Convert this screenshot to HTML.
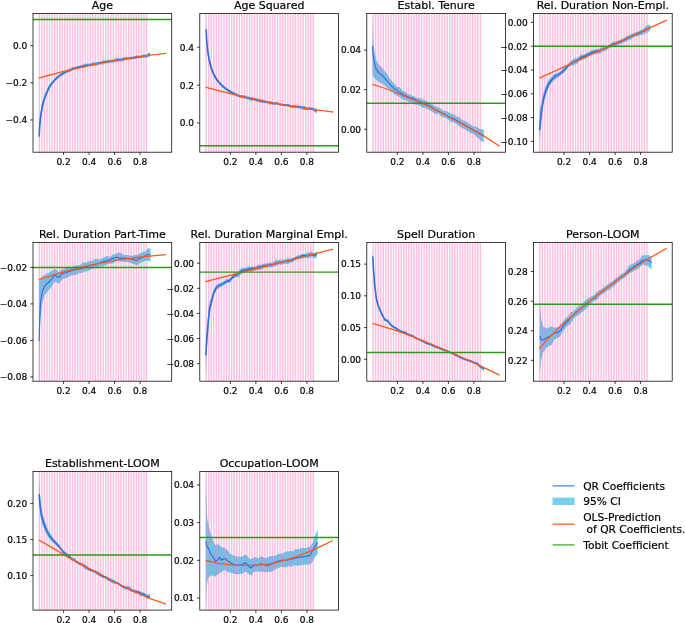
<!DOCTYPE html>
<html lang="en"><head><meta charset="utf-8"><title>QR Coefficients</title>
<style>html,body{margin:0;padding:0;background:#fff}body{width:685px;height:623px;overflow:hidden}svg{display:block;will-change:transform}text{font-family:"DejaVu Sans","Liberation Sans",sans-serif;fill:#000;stroke:#000;stroke-width:.2px}.t{font-size:11.0px;text-anchor:middle}.x{font-size:9.0px;text-anchor:middle}.y{font-size:9.0px;text-anchor:end}.l{font-size:10.65px}</style></head><body>
<svg width="685" height="623" viewBox="0 0 685 623">
<g>
<clipPath id="c00"><rect x="33" y="13.5" width="138.7" height="138.7"/></clipPath>
<g clip-path="url(#c00)">
<polygon points="39.2,127.6 39.7,118.1 40.7,110.2 42.3,101.8 44.4,95 46.5,90.2 48.5,86.1 50.3,83.4 52.8,80.4 55.4,77.8 58,75.4 60.5,73.5 63,71.9 65.7,70.4 68,69.3 70,68.49 71.28,67.79 72.55,67.19 73.83,66.87 75.1,66.78 76.38,66.55 77.66,66.18 78.93,65.97 80.21,65.5 81.48,65.02 82.76,64.39 84.04,63.82 85.31,63.8 86.59,63.67 87.86,63.51 89.14,63.69 90.42,63.31 91.69,62.52 92.97,62.36 94.24,62.37 95.52,62.19 96.8,62.17 98.07,62.06 99.35,61.75 100.62,61.56 101.9,61.12 103.18,60.56 104.45,60.4 105.73,60.31 107,60.11 108.28,59.76 109.56,59.5 110.83,59.74 112.11,59.91 113.38,59.53 114.66,58.86 115.94,58.27 117.21,57.99 118.49,58.16 119.76,58.36 121.04,58.09 122.32,57.64 123.59,57.37 124.87,56.93 126.14,56.81 127.42,57.13 128.7,57.11 129.97,56.94 131.25,56.78 132.52,56.49 133.8,56.32 135.08,55.96 136.35,55.2 137.63,55.26 138.9,55.81 140.18,55.54 141.46,55.09 142.73,54.85 144.01,54.6 145.28,54.51 146.56,54.26 147.84,53.66 149.11,52.3 149.8,51.77 149.8,57.3 149.11,56.7 147.84,56.99 146.56,57.8 145.28,57.94 144.01,57.7 142.73,57.63 141.46,57.79 140.18,57.94 138.9,58.07 137.63,58.43 136.35,58.66 135.08,58.77 133.8,58.95 132.52,59.19 131.25,59.39 129.97,59.68 128.7,59.98 127.42,59.92 126.14,59.74 124.87,60.39 123.59,61.13 122.32,61.19 121.04,61.41 119.76,61.43 118.49,61.43 117.21,61.78 115.94,61.96 114.66,62.33 113.38,62.53 112.11,62.52 110.83,62.72 109.56,62.94 108.28,63.34 107,63.36 105.73,63.16 104.45,63.72 103.18,64.54 101.9,64.56 100.62,64.23 99.35,64.47 98.07,65.11 96.8,65.63 95.52,65.97 94.24,66.08 92.97,65.97 91.69,66.11 90.42,66.26 89.14,66.3 87.86,66.47 86.59,66.78 85.31,67.58 84.04,68.06 82.76,67.9 81.48,68.02 80.21,68.52 78.93,68.99 77.66,69.04 76.38,69.01 75.1,69.28 73.83,69.83 72.55,70.55 71.28,71.36 70,72.21 68,72.3 65.7,73.4 63,74.9 60.5,76.5 58,78.4 55.4,80.8 52.8,84 50.3,87.6 48.5,91.1 46.5,96.2 44.4,102.2 42.3,110.8 40.7,120.7 39.7,131.1 39.2,143.6" fill="#6cc6ea" fill-opacity="1"/>
<path d="M39.33 13.5V152.2M41.88 13.5V152.2M44.43 13.5V152.2M46.98 13.5V152.2M49.53 13.5V152.2M52.09 13.5V152.2M54.64 13.5V152.2M57.19 13.5V152.2M59.74 13.5V152.2M62.29 13.5V152.2M64.85 13.5V152.2M67.4 13.5V152.2M69.95 13.5V152.2M72.5 13.5V152.2M75.05 13.5V152.2M77.61 13.5V152.2M80.16 13.5V152.2M82.71 13.5V152.2M85.26 13.5V152.2M87.81 13.5V152.2M90.37 13.5V152.2M92.92 13.5V152.2M95.47 13.5V152.2M98.02 13.5V152.2M100.57 13.5V152.2M103.13 13.5V152.2M105.68 13.5V152.2M108.23 13.5V152.2M110.78 13.5V152.2M113.33 13.5V152.2M115.89 13.5V152.2M118.44 13.5V152.2M120.99 13.5V152.2M123.54 13.5V152.2M126.09 13.5V152.2M128.65 13.5V152.2M131.2 13.5V152.2M133.75 13.5V152.2M136.3 13.5V152.2M138.85 13.5V152.2M141.41 13.5V152.2M143.96 13.5V152.2M146.51 13.5V152.2" stroke="#ff69b4" stroke-width="1.45" stroke-opacity="0.43" fill="none"/>
<polygon points="39.2,127.6 39.7,118.1 40.7,110.2 42.3,101.8 44.4,95 46.5,90.2 48.5,86.1 50.3,83.4 52.8,80.4 55.4,77.8 58,75.4 60.5,73.5 63,71.9 65.7,70.4 68,69.3 70,68.49 71.28,67.79 72.55,67.19 73.83,66.87 75.1,66.78 76.38,66.55 77.66,66.18 78.93,65.97 80.21,65.5 81.48,65.02 82.76,64.39 84.04,63.82 85.31,63.8 86.59,63.67 87.86,63.51 89.14,63.69 90.42,63.31 91.69,62.52 92.97,62.36 94.24,62.37 95.52,62.19 96.8,62.17 98.07,62.06 99.35,61.75 100.62,61.56 101.9,61.12 103.18,60.56 104.45,60.4 105.73,60.31 107,60.11 108.28,59.76 109.56,59.5 110.83,59.74 112.11,59.91 113.38,59.53 114.66,58.86 115.94,58.27 117.21,57.99 118.49,58.16 119.76,58.36 121.04,58.09 122.32,57.64 123.59,57.37 124.87,56.93 126.14,56.81 127.42,57.13 128.7,57.11 129.97,56.94 131.25,56.78 132.52,56.49 133.8,56.32 135.08,55.96 136.35,55.2 137.63,55.26 138.9,55.81 140.18,55.54 141.46,55.09 142.73,54.85 144.01,54.6 145.28,54.51 146.56,54.26 147.84,53.66 149.11,52.3 149.8,51.77 149.8,57.3 149.11,56.7 147.84,56.99 146.56,57.8 145.28,57.94 144.01,57.7 142.73,57.63 141.46,57.79 140.18,57.94 138.9,58.07 137.63,58.43 136.35,58.66 135.08,58.77 133.8,58.95 132.52,59.19 131.25,59.39 129.97,59.68 128.7,59.98 127.42,59.92 126.14,59.74 124.87,60.39 123.59,61.13 122.32,61.19 121.04,61.41 119.76,61.43 118.49,61.43 117.21,61.78 115.94,61.96 114.66,62.33 113.38,62.53 112.11,62.52 110.83,62.72 109.56,62.94 108.28,63.34 107,63.36 105.73,63.16 104.45,63.72 103.18,64.54 101.9,64.56 100.62,64.23 99.35,64.47 98.07,65.11 96.8,65.63 95.52,65.97 94.24,66.08 92.97,65.97 91.69,66.11 90.42,66.26 89.14,66.3 87.86,66.47 86.59,66.78 85.31,67.58 84.04,68.06 82.76,67.9 81.48,68.02 80.21,68.52 78.93,68.99 77.66,69.04 76.38,69.01 75.1,69.28 73.83,69.83 72.55,70.55 71.28,71.36 70,72.21 68,72.3 65.7,73.4 63,74.9 60.5,76.5 58,78.4 55.4,80.8 52.8,84 50.3,87.6 48.5,91.1 46.5,96.2 44.4,102.2 42.3,110.8 40.7,120.7 39.7,131.1 39.2,143.6" fill="#6cc6ea" fill-opacity="0.3"/>
<polyline points="39.2,136.6 39.7,125.1 40.7,115.7 42.3,106.3 44.4,98.6 46.5,93.2 48.5,88.6 50.3,85.5 52.8,82.2 55.4,79.3 58,76.9 60.5,75 63,73.4 65.7,71.9 68,70.8 70,70.34 71.28,69.55 72.55,68.87 73.83,68.44 75.1,68.13 76.38,67.63 77.66,67.24 78.93,67.12 80.21,66.93 81.48,66.61 82.76,66.2 84.04,65.96 85.31,65.63 86.59,65.29 87.86,65.24 89.14,65.29 90.42,65.18 91.69,64.7 92.97,64.32 94.24,64.19 95.52,63.95 96.8,63.62 98.07,63.26 99.35,63.07 100.62,63.01 101.9,62.75 103.18,62.3 104.45,61.95 105.73,61.86 107,61.77 108.28,61.59 109.56,61.42 110.83,61.22 112.11,60.92 113.38,60.71 114.66,60.46 115.94,60.05 117.21,59.81 118.49,59.87 119.76,59.92 121.04,59.65 122.32,59.42 123.59,59.21 124.87,58.76 126.14,58.5 127.42,58.53 128.7,58.42 129.97,58.14 131.25,57.79 132.52,57.73 133.8,57.95 135.08,57.71 136.35,57.07 137.63,56.76 138.9,56.88 140.18,56.9 141.46,56.68 142.73,56.35 144.01,56.08 145.28,56.09 146.56,55.89 147.84,55.16 149.11,54.27 149.8,54.28" fill="none" stroke="#2f6cdc" stroke-width="1.55" stroke-linejoin="round"/>
<polyline points="38.5,78.2 43.82,76.7 49.13,75.25 54.45,73.83 59.77,72.46 65.08,71.12 70.4,69.83 75.72,68.57 81.03,67.36 86.35,66.18 91.67,65.05 96.98,63.95 102.3,62.9 107.62,61.89 112.93,60.91 118.25,59.98 123.57,59.09 128.88,58.24 134.2,57.43 139.52,56.65 144.83,55.92 150.15,55.23 155.47,54.58 160.78,53.97 166.1,53.4" fill="none" stroke="#ff5a1c" stroke-width="1.3" stroke-linejoin="round"/>
<path d="M33 19.5H171.7" stroke="#2a9a18" stroke-width="1.45"/>
</g>
<rect x="33" y="13.5" width="138.7" height="138.7" fill="none" stroke="#000" stroke-width="0.75"/>
<path d="M63.57 152.2v2.8M89.09 152.2v2.8M114.61 152.2v2.8M140.13 152.2v2.8M33 45.75h-2.8M33 82.85h-2.8M33 119.95h-2.8" stroke="#000" stroke-width="0.75" fill="none"/>
<text class="x" x="63.57" y="165.1">0.2</text>
<text class="x" x="89.09" y="165.1">0.4</text>
<text class="x" x="114.61" y="165.1">0.6</text>
<text class="x" x="140.13" y="165.1">0.8</text>
<text class="y" x="27.3" y="49.05">0.0</text>
<text class="y" x="27.3" y="86.15">−0.2</text>
<text class="y" x="27.3" y="123.25">−0.4</text>
<text class="t" x="102.35" y="9.3">Age</text>
</g>
<g>
<clipPath id="c10"><rect x="199.8" y="13.5" width="138.7" height="138.7"/></clipPath>
<g clip-path="url(#c10)">
<polygon points="206.2,20.2 206.7,33.7 207.7,45.6 209.3,56 211,63.4 212.2,67.5 213.7,71.5 215.3,75.1 217.3,78.4 219.4,81.3 221.4,83.5 223.5,85.4 227.5,88.4 231.6,91 235.7,93 237,93.7 238.28,94.11 239.55,94.76 240.83,95.13 242.1,94.94 243.38,94.99 244.66,95.47 245.93,95.71 247.21,96.05 248.48,96.68 249.76,96.92 251.04,96.87 252.31,97.37 253.59,97.58 254.86,97.79 256.14,98.43 257.42,98.6 258.69,98.85 259.97,99.31 261.24,99.56 262.52,99.64 263.8,99.72 265.07,99.97 266.35,100.68 267.62,101.45 268.9,101.47 270.18,101.45 271.45,101.59 272.73,101.67 274,102.21 275.28,102.23 276.56,101.71 277.83,102.28 279.11,102.96 280.38,103.19 281.66,103.6 282.94,103.93 284.21,104.06 285.49,104.12 286.76,104.21 288.04,104.05 289.32,104.31 290.59,104.97 291.87,105 293.14,104.9 294.42,105.2 295.7,105.28 296.97,105.28 298.25,105.48 299.52,105.62 300.8,105.84 302.08,106.11 303.35,106.11 304.63,106.08 305.9,106.67 307.18,107.28 308.46,107.27 309.73,107.19 311.01,107.38 312.28,107.4 313.56,107.55 314.84,108.22 316.11,108.53 316.9,108.38 316.9,113.61 316.11,113.17 314.84,111.92 313.56,110.97 312.28,110.33 311.01,109.98 309.73,109.81 308.46,109.87 307.18,109.92 305.9,109.97 304.63,110.07 303.35,109.86 302.08,109.41 300.8,108.99 299.52,108.48 298.25,108.16 296.97,107.94 295.7,107.94 294.42,108.09 293.14,108.09 291.87,108.08 290.59,107.69 289.32,107 288.04,106.71 286.76,106.58 285.49,106.36 284.21,106.37 282.94,106.31 281.66,105.97 280.38,105.62 279.11,105.34 277.83,104.68 276.56,104.42 275.28,105.03 274,105.21 272.73,104.97 271.45,104.47 270.18,104.15 268.9,104.45 267.62,103.79 266.35,102.84 265.07,103.14 263.8,103.34 262.52,103.02 261.24,102.83 259.97,102.49 258.69,102.04 257.42,102.02 256.14,101.71 254.86,100.7 253.59,100.41 252.31,100.67 251.04,100.52 249.76,100.09 248.48,99.6 247.21,99.14 245.93,98.72 244.66,98.57 243.38,98.46 242.1,98.31 240.83,98.08 239.55,97.47 238.28,96.85 237,96.53 235.7,96 231.6,94 227.5,91.4 223.5,88.4 221.4,86.5 219.4,84.3 217.3,82 215.3,79.3 213.7,76.5 212.2,73.5 211,70.6 209.3,65 207.7,56.1 206.7,46.7 206.2,36.2" fill="#6cc6ea" fill-opacity="1"/>
<path d="M206.13 13.5V152.2M208.68 13.5V152.2M211.23 13.5V152.2M213.78 13.5V152.2M216.33 13.5V152.2M218.89 13.5V152.2M221.44 13.5V152.2M223.99 13.5V152.2M226.54 13.5V152.2M229.09 13.5V152.2M231.65 13.5V152.2M234.2 13.5V152.2M236.75 13.5V152.2M239.3 13.5V152.2M241.85 13.5V152.2M244.41 13.5V152.2M246.96 13.5V152.2M249.51 13.5V152.2M252.06 13.5V152.2M254.61 13.5V152.2M257.17 13.5V152.2M259.72 13.5V152.2M262.27 13.5V152.2M264.82 13.5V152.2M267.37 13.5V152.2M269.93 13.5V152.2M272.48 13.5V152.2M275.03 13.5V152.2M277.58 13.5V152.2M280.13 13.5V152.2M282.69 13.5V152.2M285.24 13.5V152.2M287.79 13.5V152.2M290.34 13.5V152.2M292.89 13.5V152.2M295.45 13.5V152.2M298 13.5V152.2M300.55 13.5V152.2M303.1 13.5V152.2M305.65 13.5V152.2M308.21 13.5V152.2M310.76 13.5V152.2M313.31 13.5V152.2" stroke="#ff69b4" stroke-width="1.45" stroke-opacity="0.43" fill="none"/>
<polygon points="206.2,20.2 206.7,33.7 207.7,45.6 209.3,56 211,63.4 212.2,67.5 213.7,71.5 215.3,75.1 217.3,78.4 219.4,81.3 221.4,83.5 223.5,85.4 227.5,88.4 231.6,91 235.7,93 237,93.7 238.28,94.11 239.55,94.76 240.83,95.13 242.1,94.94 243.38,94.99 244.66,95.47 245.93,95.71 247.21,96.05 248.48,96.68 249.76,96.92 251.04,96.87 252.31,97.37 253.59,97.58 254.86,97.79 256.14,98.43 257.42,98.6 258.69,98.85 259.97,99.31 261.24,99.56 262.52,99.64 263.8,99.72 265.07,99.97 266.35,100.68 267.62,101.45 268.9,101.47 270.18,101.45 271.45,101.59 272.73,101.67 274,102.21 275.28,102.23 276.56,101.71 277.83,102.28 279.11,102.96 280.38,103.19 281.66,103.6 282.94,103.93 284.21,104.06 285.49,104.12 286.76,104.21 288.04,104.05 289.32,104.31 290.59,104.97 291.87,105 293.14,104.9 294.42,105.2 295.7,105.28 296.97,105.28 298.25,105.48 299.52,105.62 300.8,105.84 302.08,106.11 303.35,106.11 304.63,106.08 305.9,106.67 307.18,107.28 308.46,107.27 309.73,107.19 311.01,107.38 312.28,107.4 313.56,107.55 314.84,108.22 316.11,108.53 316.9,108.38 316.9,113.61 316.11,113.17 314.84,111.92 313.56,110.97 312.28,110.33 311.01,109.98 309.73,109.81 308.46,109.87 307.18,109.92 305.9,109.97 304.63,110.07 303.35,109.86 302.08,109.41 300.8,108.99 299.52,108.48 298.25,108.16 296.97,107.94 295.7,107.94 294.42,108.09 293.14,108.09 291.87,108.08 290.59,107.69 289.32,107 288.04,106.71 286.76,106.58 285.49,106.36 284.21,106.37 282.94,106.31 281.66,105.97 280.38,105.62 279.11,105.34 277.83,104.68 276.56,104.42 275.28,105.03 274,105.21 272.73,104.97 271.45,104.47 270.18,104.15 268.9,104.45 267.62,103.79 266.35,102.84 265.07,103.14 263.8,103.34 262.52,103.02 261.24,102.83 259.97,102.49 258.69,102.04 257.42,102.02 256.14,101.71 254.86,100.7 253.59,100.41 252.31,100.67 251.04,100.52 249.76,100.09 248.48,99.6 247.21,99.14 245.93,98.72 244.66,98.57 243.38,98.46 242.1,98.31 240.83,98.08 239.55,97.47 238.28,96.85 237,96.53 235.7,96 231.6,94 227.5,91.4 223.5,88.4 221.4,86.5 219.4,84.3 217.3,82 215.3,79.3 213.7,76.5 212.2,73.5 211,70.6 209.3,65 207.7,56.1 206.7,46.7 206.2,36.2" fill="#6cc6ea" fill-opacity="0.3"/>
<polyline points="206.2,29.2 206.7,40.7 207.7,51.1 209.3,60.5 211,67 212.2,70.5 213.7,74 215.3,77.2 217.3,80.2 219.4,82.8 221.4,85 223.5,86.9 227.5,89.9 231.6,92.5 235.7,94.5 237,95.14 238.28,95.54 239.55,96.1 240.83,96.38 242.1,96.51 243.38,96.83 244.66,97.22 245.93,97.53 247.21,97.94 248.48,98.3 249.76,98.58 251.04,98.87 252.31,99.23 253.59,99.21 254.86,99.3 256.14,99.97 257.42,100.3 258.69,100.44 259.97,100.83 261.24,101.15 262.52,101.28 263.8,101.45 265.07,101.65 266.35,101.94 267.62,102.31 268.9,102.41 270.18,102.6 271.45,102.97 272.73,103.2 274,103.42 275.28,103.36 276.56,103.22 277.83,103.66 279.11,104.13 280.38,104.45 281.66,104.75 282.94,104.77 284.21,104.74 285.49,104.88 286.76,105.15 288.04,105.21 289.32,105.58 290.59,106.32 291.87,106.5 293.14,106.43 294.42,106.44 295.7,106.39 296.97,106.64 298.25,106.89 299.52,106.97 300.8,107.17 302.08,107.37 303.35,107.6 304.63,107.98 305.9,108.5 307.18,108.67 308.46,108.42 309.73,108.34 311.01,108.68 312.28,109.03 313.56,109.34 314.84,109.98 316.11,110.75 316.9,110.99" fill="none" stroke="#2f6cdc" stroke-width="1.55" stroke-linejoin="round"/>
<polyline points="205.5,87.1 210.82,88.55 216.13,89.97 221.45,91.35 226.77,92.69 232.08,94 237.4,95.27 242.72,96.51 248.03,97.71 253.35,98.87 258.67,100 263.98,101.09 269.3,102.15 274.62,103.17 279.93,104.15 285.25,105.1 290.57,106.01 295.88,106.89 301.2,107.72 306.52,108.53 311.83,109.29 317.15,110.02 322.47,110.72 327.78,111.38 333.1,112" fill="none" stroke="#ff5a1c" stroke-width="1.3" stroke-linejoin="round"/>
<path d="M199.8 145.7H338.5" stroke="#2a9a18" stroke-width="1.45"/>
</g>
<rect x="199.8" y="13.5" width="138.7" height="138.7" fill="none" stroke="#000" stroke-width="0.75"/>
<path d="M230.37 152.2v2.8M255.89 152.2v2.8M281.41 152.2v2.8M306.93 152.2v2.8M199.8 47.2h-2.8M199.8 85.2h-2.8M199.8 122.9h-2.8" stroke="#000" stroke-width="0.75" fill="none"/>
<text class="x" x="230.37" y="165.1">0.2</text>
<text class="x" x="255.89" y="165.1">0.4</text>
<text class="x" x="281.41" y="165.1">0.6</text>
<text class="x" x="306.93" y="165.1">0.8</text>
<text class="y" x="194.1" y="50.5">0.4</text>
<text class="y" x="194.1" y="88.5">0.2</text>
<text class="y" x="194.1" y="126.2">0.0</text>
<text class="t" x="269.15" y="9.3">Age Squared</text>
</g>
<g>
<clipPath id="c20"><rect x="366.8" y="13.5" width="138.7" height="138.7"/></clipPath>
<g clip-path="url(#c20)">
<polygon points="372.5,17.6 373.1,38.5 374.4,51.3 376,59.3 378,63.4 380,65.8 382.4,68.2 384.9,71.4 387.3,74.6 390.5,79.4 392,81.25 393.28,82.76 394.55,84.06 395.83,85.57 397.1,87.08 398.38,87.04 399.66,87.18 400.93,88.83 402.21,90.43 403.48,91.28 404.76,91.82 406.04,92.5 407.31,93.45 408.59,94.29 409.86,94.39 411.14,94.91 412.42,95.89 413.69,96.09 414.97,96.6 416.24,97.85 417.52,98.19 418.8,97.79 420.07,98.04 421.35,98.92 422.62,99.47 423.9,99.7 425.18,100.11 426.45,101.04 427.73,101.96 429,102.07 430.28,102.36 431.56,103.65 432.83,104.8 434.11,105.59 435.38,106.42 436.66,106.75 437.94,107.09 439.21,107.69 440.49,108.44 441.76,109.7 443.04,110.55 444.32,110.7 445.59,110.95 446.87,111.47 448.14,112 449.42,112.73 450.7,113.43 451.97,113.81 453.25,114.21 454.52,114.86 455.8,116.09 457.08,116.99 458.35,116.78 459.63,117.22 460.9,119.02 462.18,120.22 463.46,120.32 464.73,120.8 466.01,121.76 467.28,122.54 468.56,123.33 469.84,124.26 471.11,124.99 472.39,125.79 473.66,126.51 474.94,126.56 476.22,126.55 477.49,127.53 478.77,128.54 480.04,129 481.32,129.13 482.6,129.36 483.7,129.9 483.7,142.31 482.6,141.57 481.32,141.05 480.04,139.91 478.77,138.51 477.49,137.62 476.22,136.53 474.94,135.19 473.66,134.16 472.39,133.53 471.11,133.13 469.84,132.5 468.56,131.79 467.28,130.98 466.01,130 464.73,129.07 463.46,128.42 462.18,128.04 460.9,127.2 459.63,126.18 458.35,125.4 457.08,124.65 455.8,123.58 454.52,122.78 453.25,122.42 451.97,122.11 450.7,121.76 449.42,120.72 448.14,119.55 446.87,118.56 445.59,117.74 444.32,117.44 443.04,117.26 441.76,117.06 440.49,116.04 439.21,114.11 437.94,113.54 436.66,114.22 435.38,113.96 434.11,113.19 432.83,112.31 431.56,111.34 430.28,110.47 429,109.8 427.73,109.37 426.45,108.66 425.18,108.12 423.9,108.11 422.62,107.86 421.35,106.93 420.07,105.97 418.8,105.39 417.52,104.86 416.24,104.72 414.97,104.49 413.69,103.33 412.42,102.39 411.14,102.41 409.86,102.17 408.59,101.6 407.31,101.17 406.04,100.53 404.76,99.86 403.48,99.82 402.21,99.22 400.93,97.85 399.66,97.16 398.38,96.6 397.1,95.55 395.83,94.99 394.55,94.34 393.28,93 392,91.84 390.5,90.7 387.3,87.8 384.9,85.9 382.4,83.8 380,82.7 378,81.4 376,79.8 374.4,78.2 372.5,75" fill="#6cc6ea" fill-opacity="1"/>
<path d="M373.13 13.5V152.2M375.68 13.5V152.2M378.23 13.5V152.2M380.78 13.5V152.2M383.33 13.5V152.2M385.89 13.5V152.2M388.44 13.5V152.2M390.99 13.5V152.2M393.54 13.5V152.2M396.09 13.5V152.2M398.65 13.5V152.2M401.2 13.5V152.2M403.75 13.5V152.2M406.3 13.5V152.2M408.85 13.5V152.2M411.41 13.5V152.2M413.96 13.5V152.2M416.51 13.5V152.2M419.06 13.5V152.2M421.61 13.5V152.2M424.17 13.5V152.2M426.72 13.5V152.2M429.27 13.5V152.2M431.82 13.5V152.2M434.37 13.5V152.2M436.93 13.5V152.2M439.48 13.5V152.2M442.03 13.5V152.2M444.58 13.5V152.2M447.13 13.5V152.2M449.69 13.5V152.2M452.24 13.5V152.2M454.79 13.5V152.2M457.34 13.5V152.2M459.89 13.5V152.2M462.45 13.5V152.2M465 13.5V152.2M467.55 13.5V152.2M470.1 13.5V152.2M472.65 13.5V152.2M475.21 13.5V152.2M477.76 13.5V152.2M480.31 13.5V152.2" stroke="#ff69b4" stroke-width="1.45" stroke-opacity="0.43" fill="none"/>
<polygon points="372.5,17.6 373.1,38.5 374.4,51.3 376,59.3 378,63.4 380,65.8 382.4,68.2 384.9,71.4 387.3,74.6 390.5,79.4 392,81.25 393.28,82.76 394.55,84.06 395.83,85.57 397.1,87.08 398.38,87.04 399.66,87.18 400.93,88.83 402.21,90.43 403.48,91.28 404.76,91.82 406.04,92.5 407.31,93.45 408.59,94.29 409.86,94.39 411.14,94.91 412.42,95.89 413.69,96.09 414.97,96.6 416.24,97.85 417.52,98.19 418.8,97.79 420.07,98.04 421.35,98.92 422.62,99.47 423.9,99.7 425.18,100.11 426.45,101.04 427.73,101.96 429,102.07 430.28,102.36 431.56,103.65 432.83,104.8 434.11,105.59 435.38,106.42 436.66,106.75 437.94,107.09 439.21,107.69 440.49,108.44 441.76,109.7 443.04,110.55 444.32,110.7 445.59,110.95 446.87,111.47 448.14,112 449.42,112.73 450.7,113.43 451.97,113.81 453.25,114.21 454.52,114.86 455.8,116.09 457.08,116.99 458.35,116.78 459.63,117.22 460.9,119.02 462.18,120.22 463.46,120.32 464.73,120.8 466.01,121.76 467.28,122.54 468.56,123.33 469.84,124.26 471.11,124.99 472.39,125.79 473.66,126.51 474.94,126.56 476.22,126.55 477.49,127.53 478.77,128.54 480.04,129 481.32,129.13 482.6,129.36 483.7,129.9 483.7,142.31 482.6,141.57 481.32,141.05 480.04,139.91 478.77,138.51 477.49,137.62 476.22,136.53 474.94,135.19 473.66,134.16 472.39,133.53 471.11,133.13 469.84,132.5 468.56,131.79 467.28,130.98 466.01,130 464.73,129.07 463.46,128.42 462.18,128.04 460.9,127.2 459.63,126.18 458.35,125.4 457.08,124.65 455.8,123.58 454.52,122.78 453.25,122.42 451.97,122.11 450.7,121.76 449.42,120.72 448.14,119.55 446.87,118.56 445.59,117.74 444.32,117.44 443.04,117.26 441.76,117.06 440.49,116.04 439.21,114.11 437.94,113.54 436.66,114.22 435.38,113.96 434.11,113.19 432.83,112.31 431.56,111.34 430.28,110.47 429,109.8 427.73,109.37 426.45,108.66 425.18,108.12 423.9,108.11 422.62,107.86 421.35,106.93 420.07,105.97 418.8,105.39 417.52,104.86 416.24,104.72 414.97,104.49 413.69,103.33 412.42,102.39 411.14,102.41 409.86,102.17 408.59,101.6 407.31,101.17 406.04,100.53 404.76,99.86 403.48,99.82 402.21,99.22 400.93,97.85 399.66,97.16 398.38,96.6 397.1,95.55 395.83,94.99 394.55,94.34 393.28,93 392,91.84 390.5,90.7 387.3,87.8 384.9,85.9 382.4,83.8 380,82.7 378,81.4 376,79.8 374.4,78.2 372.5,75" fill="#6cc6ea" fill-opacity="0.3"/>
<polyline points="372.5,46.3 373.1,55.1 374.4,63.2 376,68.8 378,72 380,73.6 382.4,75.7 384.9,78.4 387.3,81.1 390.5,84.8 392,86.43 393.28,87.61 394.55,88.7 395.83,89.61 397.1,90.62 398.38,91.67 399.66,92.38 400.93,93.05 402.21,93.93 403.48,94.71 404.76,95.35 406.04,95.91 407.31,96.43 408.59,97.07 409.86,97.53 411.14,97.84 412.42,98.21 413.69,98.76 414.97,99.46 416.24,100.05 417.52,100.64 418.8,101.15 420.07,101.64 421.35,102.33 422.62,103.1 423.9,103.72 425.18,104.18 426.45,104.63 427.73,105.17 429,105.78 430.28,106.35 431.56,107.19 432.83,108.05 434.11,108.61 435.38,109.44 436.66,110.21 437.94,110.78 439.21,111.55 440.49,112.37 441.76,113.05 443.04,113.56 444.32,114.1 445.59,114.73 446.87,115.44 448.14,116.18 449.42,116.93 450.7,117.58 451.97,117.96 453.25,118.51 454.52,119.15 455.8,119.94 457.08,120.83 458.35,121.32 459.63,122 460.9,123 462.18,123.73 463.46,124.26 464.73,125.01 466.01,125.76 467.28,126.43 468.56,127.27 469.84,128.06 471.11,128.73 472.39,129.54 473.66,130.54 474.94,131.2 476.22,131.67 477.49,132.64 478.77,133.48 480.04,134.01 481.32,134.69 482.6,135.54 483.7,136.1" fill="none" stroke="#2f6cdc" stroke-width="1.1" stroke-linejoin="round"/>
<polyline points="372.5,84.3 384.1,88 400.1,94.5 416.2,100.9 430,106.9 447.5,116.3 465,125.6 481.4,134.4 499.7,146.3" fill="none" stroke="#ff5a1c" stroke-width="1.3" stroke-linejoin="round"/>
<path d="M366.8 103.3H505.5" stroke="#2a9a18" stroke-width="1.45"/>
</g>
<rect x="366.8" y="13.5" width="138.7" height="138.7" fill="none" stroke="#000" stroke-width="0.75"/>
<path d="M397.37 152.2v2.8M422.89 152.2v2.8M448.41 152.2v2.8M473.93 152.2v2.8M366.8 50h-2.8M366.8 89.6h-2.8M366.8 129.2h-2.8" stroke="#000" stroke-width="0.75" fill="none"/>
<text class="x" x="397.37" y="165.1">0.2</text>
<text class="x" x="422.89" y="165.1">0.4</text>
<text class="x" x="448.41" y="165.1">0.6</text>
<text class="x" x="473.93" y="165.1">0.8</text>
<text class="y" x="361.1" y="53.3">0.04</text>
<text class="y" x="361.1" y="92.9">0.02</text>
<text class="y" x="361.1" y="132.5">0.00</text>
<text class="t" x="436.15" y="9.3">Establ. Tenure</text>
</g>
<g>
<clipPath id="c30"><rect x="533.5" y="13.5" width="138.7" height="138.7"/></clipPath>
<g clip-path="url(#c30)">
<polygon points="539.6,111.3 540.7,106.4 542,99.8 543.6,92.2 546,85.3 548.4,80.5 551.7,76.4 554.9,73.6 558.1,72.4 560,71.9 561.28,70.57 562.55,68.65 563.83,66.93 565.1,65.77 566.38,65.13 567.66,64.16 568.93,63.17 570.21,61.36 571.48,60.03 572.76,59.83 574.04,58.84 575.31,57.83 576.59,57.89 577.86,57.76 579.14,56.49 580.42,54.87 581.69,54.33 582.97,54.46 584.24,54.13 585.52,53.71 586.8,52.9 588.07,51.91 589.35,51.4 590.62,50.62 591.9,50.02 593.18,49.99 594.45,49.8 595.73,49.21 597,48.77 598.28,48.91 599.56,48.8 600.83,47.74 602.11,46.64 603.38,46.52 604.66,46.56 605.94,45.89 607.21,45.68 608.49,45.47 609.76,44.35 611.04,43.31 612.32,42.17 613.59,41.54 614.87,41.73 616.14,41.28 617.42,40.54 618.7,40.43 619.97,40.17 621.25,39.1 622.52,38.57 623.8,38.49 625.08,37.15 626.35,36.04 627.63,35.92 628.9,35.23 630.18,34.49 631.46,34.11 632.73,33.72 634.01,33.2 635.28,32.47 636.56,32.07 637.84,31.57 639.11,30.91 640.39,30.31 641.66,29.63 642.94,28.96 644.22,27.99 645.49,26.72 646.77,25.36 648.04,24.93 649.32,24.93 650.3,24.5 650.3,29.98 649.32,30.99 648.04,32.09 646.77,32.74 645.49,33.36 644.22,33.83 642.94,34.45 641.66,35.01 640.39,35.19 639.11,35.43 637.84,36.02 636.56,36.44 635.28,36.43 634.01,37.01 632.73,38.11 631.46,39.26 630.18,39.85 628.9,39.94 627.63,40.75 626.35,41.63 625.08,41.89 623.8,42.42 622.52,43.13 621.25,43.52 619.97,44 618.7,44.68 617.42,45.49 616.14,45.98 614.87,45.84 613.59,46.28 612.32,47.31 611.04,47.63 609.76,47.71 608.49,48.72 607.21,49.84 605.94,50.47 604.66,51.02 603.38,51.21 602.11,51.66 600.83,52.65 599.56,53.52 598.28,53.71 597,53.75 595.73,54.09 594.45,53.88 593.18,53.71 591.9,54.49 590.62,55.4 589.35,55.98 588.07,56.72 586.8,57.82 585.52,58.85 584.24,59.25 582.97,59.41 581.69,59.75 580.42,60.23 579.14,61.33 577.86,62.93 576.59,63.98 575.31,64.18 574.04,64.95 572.76,65.92 571.48,65.75 570.21,65.85 568.93,66.73 567.66,68.1 566.38,69.99 565.1,71.3 563.83,72.99 562.55,74.35 561.28,74.68 560,75.73 558.1,77.4 554.9,79.4 551.7,83 548.4,88.5 546,94.9 543.6,104.2 542,115.8 540.7,127.4 539.6,144.3" fill="#6cc6ea" fill-opacity="1"/>
<path d="M539.83 13.5V152.2M542.38 13.5V152.2M544.93 13.5V152.2M547.48 13.5V152.2M550.03 13.5V152.2M552.59 13.5V152.2M555.14 13.5V152.2M557.69 13.5V152.2M560.24 13.5V152.2M562.79 13.5V152.2M565.35 13.5V152.2M567.9 13.5V152.2M570.45 13.5V152.2M573 13.5V152.2M575.55 13.5V152.2M578.11 13.5V152.2M580.66 13.5V152.2M583.21 13.5V152.2M585.76 13.5V152.2M588.31 13.5V152.2M590.87 13.5V152.2M593.42 13.5V152.2M595.97 13.5V152.2M598.52 13.5V152.2M601.07 13.5V152.2M603.63 13.5V152.2M606.18 13.5V152.2M608.73 13.5V152.2M611.28 13.5V152.2M613.83 13.5V152.2M616.39 13.5V152.2M618.94 13.5V152.2M621.49 13.5V152.2M624.04 13.5V152.2M626.59 13.5V152.2M629.15 13.5V152.2M631.7 13.5V152.2M634.25 13.5V152.2M636.8 13.5V152.2M639.35 13.5V152.2M641.91 13.5V152.2M644.46 13.5V152.2M647.01 13.5V152.2" stroke="#ff69b4" stroke-width="1.45" stroke-opacity="0.43" fill="none"/>
<polygon points="539.6,111.3 540.7,106.4 542,99.8 543.6,92.2 546,85.3 548.4,80.5 551.7,76.4 554.9,73.6 558.1,72.4 560,71.9 561.28,70.57 562.55,68.65 563.83,66.93 565.1,65.77 566.38,65.13 567.66,64.16 568.93,63.17 570.21,61.36 571.48,60.03 572.76,59.83 574.04,58.84 575.31,57.83 576.59,57.89 577.86,57.76 579.14,56.49 580.42,54.87 581.69,54.33 582.97,54.46 584.24,54.13 585.52,53.71 586.8,52.9 588.07,51.91 589.35,51.4 590.62,50.62 591.9,50.02 593.18,49.99 594.45,49.8 595.73,49.21 597,48.77 598.28,48.91 599.56,48.8 600.83,47.74 602.11,46.64 603.38,46.52 604.66,46.56 605.94,45.89 607.21,45.68 608.49,45.47 609.76,44.35 611.04,43.31 612.32,42.17 613.59,41.54 614.87,41.73 616.14,41.28 617.42,40.54 618.7,40.43 619.97,40.17 621.25,39.1 622.52,38.57 623.8,38.49 625.08,37.15 626.35,36.04 627.63,35.92 628.9,35.23 630.18,34.49 631.46,34.11 632.73,33.72 634.01,33.2 635.28,32.47 636.56,32.07 637.84,31.57 639.11,30.91 640.39,30.31 641.66,29.63 642.94,28.96 644.22,27.99 645.49,26.72 646.77,25.36 648.04,24.93 649.32,24.93 650.3,24.5 650.3,29.98 649.32,30.99 648.04,32.09 646.77,32.74 645.49,33.36 644.22,33.83 642.94,34.45 641.66,35.01 640.39,35.19 639.11,35.43 637.84,36.02 636.56,36.44 635.28,36.43 634.01,37.01 632.73,38.11 631.46,39.26 630.18,39.85 628.9,39.94 627.63,40.75 626.35,41.63 625.08,41.89 623.8,42.42 622.52,43.13 621.25,43.52 619.97,44 618.7,44.68 617.42,45.49 616.14,45.98 614.87,45.84 613.59,46.28 612.32,47.31 611.04,47.63 609.76,47.71 608.49,48.72 607.21,49.84 605.94,50.47 604.66,51.02 603.38,51.21 602.11,51.66 600.83,52.65 599.56,53.52 598.28,53.71 597,53.75 595.73,54.09 594.45,53.88 593.18,53.71 591.9,54.49 590.62,55.4 589.35,55.98 588.07,56.72 586.8,57.82 585.52,58.85 584.24,59.25 582.97,59.41 581.69,59.75 580.42,60.23 579.14,61.33 577.86,62.93 576.59,63.98 575.31,64.18 574.04,64.95 572.76,65.92 571.48,65.75 570.21,65.85 568.93,66.73 567.66,68.1 566.38,69.99 565.1,71.3 563.83,72.99 562.55,74.35 561.28,74.68 560,75.73 558.1,77.4 554.9,79.4 551.7,83 548.4,88.5 546,94.9 543.6,104.2 542,115.8 540.7,127.4 539.6,144.3" fill="#6cc6ea" fill-opacity="0.3"/>
<polyline points="539.6,130.3 540.7,117.4 542,107.8 543.6,98.2 546,90.1 548.4,84.5 551.7,79.7 554.9,76.5 558.1,74.9 560,73.55 561.28,72.5 562.55,71.41 563.83,70.34 565.1,69.16 566.38,67.79 567.66,66.12 568.93,65.05 570.21,64.08 571.48,63.15 572.76,62.5 574.04,61.87 575.31,61.14 576.59,60.59 577.86,60.14 579.14,59.03 580.42,57.78 581.69,57.2 582.97,56.66 584.24,56.29 585.52,56.06 586.8,55.11 588.07,54.19 589.35,53.97 590.62,53.48 591.9,52.66 593.18,52.13 594.45,51.82 595.73,51.53 597,51.19 598.28,51.14 599.56,50.96 600.83,50.09 602.11,49.3 603.38,49.05 604.66,48.66 605.94,48.05 607.21,47.42 608.49,46.39 609.76,45.63 611.04,45.26 612.32,44.65 613.59,44.19 614.87,44 616.14,43.58 617.42,42.83 618.7,42.3 619.97,42.01 621.25,41.29 622.52,40.6 623.8,40.03 625.08,39.21 626.35,38.69 627.63,38.3 628.9,37.51 630.18,36.81 631.46,36.29 632.73,35.58 634.01,34.81 635.28,34.44 636.56,34.19 637.84,33.66 639.11,33.2 640.39,32.56 641.66,31.82 642.94,31.37 644.22,30.79 645.49,29.91 646.77,29 648.04,28.56 649.32,28.2 650.3,27.3" fill="none" stroke="#2f6cdc" stroke-width="1.55" stroke-linejoin="round"/>
<polyline points="539.3,78.1 666.8,20.2" fill="none" stroke="#ff5a1c" stroke-width="1.3" stroke-linejoin="round"/>
<path d="M533.5 46.3H672.2" stroke="#2a9a18" stroke-width="1.45"/>
</g>
<rect x="533.5" y="13.5" width="138.7" height="138.7" fill="none" stroke="#000" stroke-width="0.75"/>
<path d="M564.07 152.2v2.8M589.59 152.2v2.8M615.11 152.2v2.8M640.63 152.2v2.8M533.5 22.4h-2.8M533.5 46.2h-2.8M533.5 70h-2.8M533.5 93.8h-2.8M533.5 117.6h-2.8M533.5 141.4h-2.8" stroke="#000" stroke-width="0.75" fill="none"/>
<text class="x" x="564.07" y="165.1">0.2</text>
<text class="x" x="589.59" y="165.1">0.4</text>
<text class="x" x="615.11" y="165.1">0.6</text>
<text class="x" x="640.63" y="165.1">0.8</text>
<text class="y" x="527.8" y="25.7">0.00</text>
<text class="y" x="527.8" y="49.5">−0.02</text>
<text class="y" x="527.8" y="73.3">−0.04</text>
<text class="y" x="527.8" y="97.1">−0.06</text>
<text class="y" x="527.8" y="120.9">−0.08</text>
<text class="y" x="527.8" y="144.7">−0.10</text>
<text class="t" x="602.85" y="9.3">Rel. Duration Non-Empl.</text>
</g>
<g>
<clipPath id="c01"><rect x="33" y="242.5" width="138.7" height="138.7"/></clipPath>
<g clip-path="url(#c01)">
<polygon points="39.1,281.5 41.2,277.5 44.4,275.1 50.1,272 54.9,268.8 58.9,272 62.1,268.8 64,269.1 65.28,268.08 66.55,267.61 67.83,267.29 69.1,266.59 70.38,266.7 71.66,267.12 72.93,266.84 74.21,265.81 75.48,265.24 76.76,265.56 78.04,265.56 79.31,265.2 80.59,264.6 81.86,263.36 83.14,262.64 84.42,262.59 85.69,262.7 86.97,262.25 88.24,261.54 89.52,261.28 90.8,261.23 92.07,260.95 93.35,260.28 94.62,259.29 95.9,258.82 97.18,259.21 98.45,259.58 99.73,259.56 101,258.97 102.28,258.16 103.56,257.7 104.83,257.04 106.11,256.29 107.38,256.09 108.66,256.58 109.94,256.71 111.21,255.75 112.49,254.82 113.76,254.48 115.04,253.96 116.32,253.43 117.59,252.93 118.87,252.6 120.14,252.7 121.42,253.33 122.7,254.26 123.97,254.77 125.25,254.99 126.52,255.07 127.8,255.1 129.08,255.56 130.35,255.73 131.63,255.63 132.9,255.75 134.18,255.36 135.46,255.04 136.73,255.22 138.01,254.6 139.28,253.78 140.56,253.2 141.84,252.54 143.11,251.84 144.39,251.73 145.66,251.18 146.94,249.53 148.22,248.22 149.49,248.59 150.5,248.98 150.5,261.14 149.49,261.29 148.22,260.84 146.94,260.73 145.66,261.03 144.39,261.47 143.11,261.81 141.84,262.27 140.56,262.8 139.28,263.88 138.01,265.02 136.73,265.6 135.46,264.85 134.18,264.07 132.9,263.96 131.63,263.61 130.35,262.76 129.08,262.36 127.8,262.15 126.52,261.86 125.25,261.88 123.97,261.91 122.7,261.75 121.42,261.62 120.14,261.48 118.87,261.15 117.59,260.72 116.32,261 115.04,261.92 113.76,262.95 112.49,263.54 111.21,263.76 109.94,263.83 108.66,263.72 107.38,264.31 106.11,265.21 104.83,265.51 103.56,266.03 102.28,266.54 101,266.29 99.73,266.32 98.45,267.3 97.18,268.24 95.9,268.21 94.62,267.95 93.35,268.41 92.07,268.97 90.8,269.42 89.52,270.23 88.24,270.82 86.97,271.31 85.69,271.55 84.42,271.48 83.14,272.29 81.86,273.25 80.59,273.12 79.31,272.97 78.04,273.79 76.76,274.45 75.48,274.84 74.21,275.19 72.93,275.16 71.66,275.23 70.38,275.72 69.1,276.3 67.83,277.49 66.55,278.36 65.28,278.15 64,278.25 62.1,279.8 58.9,283.8 54.9,281.4 50.9,287.8 47.6,291.2 44.4,296 42,304 40.4,320 39.8,340 39.45,381 38.9,381" fill="#6cc6ea" fill-opacity="1"/>
<path d="M39.33 242.5V381.2M41.88 242.5V381.2M44.43 242.5V381.2M46.98 242.5V381.2M49.53 242.5V381.2M52.09 242.5V381.2M54.64 242.5V381.2M57.19 242.5V381.2M59.74 242.5V381.2M62.29 242.5V381.2M64.85 242.5V381.2M67.4 242.5V381.2M69.95 242.5V381.2M72.5 242.5V381.2M75.05 242.5V381.2M77.61 242.5V381.2M80.16 242.5V381.2M82.71 242.5V381.2M85.26 242.5V381.2M87.81 242.5V381.2M90.37 242.5V381.2M92.92 242.5V381.2M95.47 242.5V381.2M98.02 242.5V381.2M100.57 242.5V381.2M103.13 242.5V381.2M105.68 242.5V381.2M108.23 242.5V381.2M110.78 242.5V381.2M113.33 242.5V381.2M115.89 242.5V381.2M118.44 242.5V381.2M120.99 242.5V381.2M123.54 242.5V381.2M126.09 242.5V381.2M128.65 242.5V381.2M131.2 242.5V381.2M133.75 242.5V381.2M136.3 242.5V381.2M138.85 242.5V381.2M141.41 242.5V381.2M143.96 242.5V381.2M146.51 242.5V381.2" stroke="#ff69b4" stroke-width="1.45" stroke-opacity="0.43" fill="none"/>
<polygon points="39.1,281.5 41.2,277.5 44.4,275.1 50.1,272 54.9,268.8 58.9,272 62.1,268.8 64,269.1 65.28,268.08 66.55,267.61 67.83,267.29 69.1,266.59 70.38,266.7 71.66,267.12 72.93,266.84 74.21,265.81 75.48,265.24 76.76,265.56 78.04,265.56 79.31,265.2 80.59,264.6 81.86,263.36 83.14,262.64 84.42,262.59 85.69,262.7 86.97,262.25 88.24,261.54 89.52,261.28 90.8,261.23 92.07,260.95 93.35,260.28 94.62,259.29 95.9,258.82 97.18,259.21 98.45,259.58 99.73,259.56 101,258.97 102.28,258.16 103.56,257.7 104.83,257.04 106.11,256.29 107.38,256.09 108.66,256.58 109.94,256.71 111.21,255.75 112.49,254.82 113.76,254.48 115.04,253.96 116.32,253.43 117.59,252.93 118.87,252.6 120.14,252.7 121.42,253.33 122.7,254.26 123.97,254.77 125.25,254.99 126.52,255.07 127.8,255.1 129.08,255.56 130.35,255.73 131.63,255.63 132.9,255.75 134.18,255.36 135.46,255.04 136.73,255.22 138.01,254.6 139.28,253.78 140.56,253.2 141.84,252.54 143.11,251.84 144.39,251.73 145.66,251.18 146.94,249.53 148.22,248.22 149.49,248.59 150.5,248.98 150.5,261.14 149.49,261.29 148.22,260.84 146.94,260.73 145.66,261.03 144.39,261.47 143.11,261.81 141.84,262.27 140.56,262.8 139.28,263.88 138.01,265.02 136.73,265.6 135.46,264.85 134.18,264.07 132.9,263.96 131.63,263.61 130.35,262.76 129.08,262.36 127.8,262.15 126.52,261.86 125.25,261.88 123.97,261.91 122.7,261.75 121.42,261.62 120.14,261.48 118.87,261.15 117.59,260.72 116.32,261 115.04,261.92 113.76,262.95 112.49,263.54 111.21,263.76 109.94,263.83 108.66,263.72 107.38,264.31 106.11,265.21 104.83,265.51 103.56,266.03 102.28,266.54 101,266.29 99.73,266.32 98.45,267.3 97.18,268.24 95.9,268.21 94.62,267.95 93.35,268.41 92.07,268.97 90.8,269.42 89.52,270.23 88.24,270.82 86.97,271.31 85.69,271.55 84.42,271.48 83.14,272.29 81.86,273.25 80.59,273.12 79.31,272.97 78.04,273.79 76.76,274.45 75.48,274.84 74.21,275.19 72.93,275.16 71.66,275.23 70.38,275.72 69.1,276.3 67.83,277.49 66.55,278.36 65.28,278.15 64,278.25 62.1,279.8 58.9,283.8 54.9,281.4 50.9,287.8 47.6,291.2 44.4,296 42,304 40.4,320 39.8,340 39.45,381 38.9,381" fill="#6cc6ea" fill-opacity="0.3"/>
<polyline points="39.1,340.9 39.6,323.3 40.4,304 42,292.8 44.4,286.3 47.6,283.1 50.9,279.9 54.9,275.1 58.9,277.5 62.1,273.5 64,273.01 65.28,272.84 66.55,272.51 67.83,272 69.1,271.52 70.38,271.19 71.66,270.79 72.93,270.46 74.21,270.07 75.48,269.73 76.76,269.41 78.04,269.21 79.31,269.05 80.59,268.8 81.86,268.31 83.14,267.88 84.42,267.27 85.69,266.81 86.97,266.62 88.24,266.13 89.52,265.63 90.8,265.3 92.07,264.96 93.35,264.61 94.62,264.45 95.9,264.3 97.18,263.82 98.45,263.26 99.73,262.92 101,262.51 102.28,261.91 103.56,261.52 104.83,261.24 106.11,260.63 107.38,260.21 108.66,260.12 109.94,259.81 111.21,259.05 112.49,258.49 113.76,258.22 115.04,257.78 116.32,257.29 117.59,257.25 118.87,257.94 120.14,258.18 121.42,258.12 122.7,258.22 123.97,258.17 125.25,258.17 126.52,258.34 127.8,258.68 129.08,258.86 130.35,258.87 131.63,259.1 132.9,259.41 134.18,259.68 135.46,260.08 136.73,260.37 138.01,259.62 139.28,258.75 140.56,258.01 141.84,257.51 143.11,256.79 144.39,256.13 145.66,255.7 146.94,255.12 148.22,254.44 149.49,254.63 150.5,254.7" fill="none" stroke="#2f6cdc" stroke-width="1.1" stroke-linejoin="round"/>
<polyline points="38.8,279.6 54.9,274.3 70.9,270 87,266 104,262.6 118.4,259.9 141.7,256.8 165.9,254.7" fill="none" stroke="#ff5a1c" stroke-width="1.3" stroke-linejoin="round"/>
<path d="M33 267.5H171.7" stroke="#2a9a18" stroke-width="1.45"/>
</g>
<rect x="33" y="242.5" width="138.7" height="138.7" fill="none" stroke="#000" stroke-width="0.75"/>
<path d="M63.57 381.2v2.8M89.09 381.2v2.8M114.61 381.2v2.8M140.13 381.2v2.8M33 267.4h-2.8M33 303.9h-2.8M33 340.4h-2.8M33 376.9h-2.8" stroke="#000" stroke-width="0.75" fill="none"/>
<text class="x" x="63.57" y="394.1">0.2</text>
<text class="x" x="89.09" y="394.1">0.4</text>
<text class="x" x="114.61" y="394.1">0.6</text>
<text class="x" x="140.13" y="394.1">0.8</text>
<text class="y" x="27.3" y="270.7">−0.02</text>
<text class="y" x="27.3" y="307.2">−0.04</text>
<text class="y" x="27.3" y="343.7">−0.06</text>
<text class="y" x="27.3" y="380.2">−0.08</text>
<text class="t" x="102.35" y="238.3">Rel. Duration Part-Time</text>
</g>
<g>
<clipPath id="c11"><rect x="199.8" y="242.5" width="138.7" height="138.7"/></clipPath>
<g clip-path="url(#c11)">
<polygon points="205.8,337.3 207,325.3 208.6,310.2 209.8,300.2 211,299.2 212.2,294 214,288.7 216.7,284.3 220.1,282.9 224.1,280.9 226,279.25 227.28,278.99 228.55,279.14 229.83,278.66 231.1,276.72 232.38,274.59 233.66,273.3 234.93,272.81 236.21,272.9 237.48,272.19 238.76,270.66 240.04,269.3 241.31,268.62 242.59,268.1 243.86,267.82 245.14,267.8 246.42,267.22 247.69,266.57 248.97,266.61 250.24,266.68 251.52,266.55 252.8,266.7 254.07,266.57 255.35,266.34 256.62,265.71 257.9,264.71 259.18,264.55 260.45,264.85 261.73,264.81 263,264.09 264.28,263.34 265.56,263.46 266.83,263.39 268.11,263.03 269.38,262.6 270.66,262.28 271.94,262.64 273.21,262.3 274.49,260.95 275.76,259.83 277.04,259.89 278.32,260.43 279.59,260.05 280.87,259.82 282.14,259.63 283.42,259.27 284.7,259.47 285.97,259.02 287.25,258.29 288.52,258.41 289.8,258.47 291.08,258.18 292.35,258.05 293.63,257.7 294.9,257.02 296.18,256.42 297.46,255.61 298.73,255.1 300.01,255.2 301.28,254.32 302.56,253.59 303.84,254.08 305.11,254.02 306.39,253.21 307.66,253.1 308.94,252.74 310.22,251.66 311.49,251.57 312.77,252.54 314.04,253.29 315.32,252.93 316.9,251.21 316.9,256.65 315.32,258.33 314.04,258.24 312.77,257.44 311.49,257 310.22,257.39 308.94,258.05 307.66,258.28 306.39,257.94 305.11,257.97 303.84,258.39 302.56,258.51 301.28,258.86 300.01,259.32 298.73,259.34 297.46,259.31 296.18,259.61 294.9,260.4 293.63,261.36 292.35,262.24 291.08,262.55 289.8,262.95 288.52,263.64 287.25,263.94 285.97,264.12 284.7,264.02 283.42,263.96 282.14,264.63 280.87,264.71 279.59,264.2 278.32,264.72 277.04,265.68 275.76,266.01 274.49,266.14 273.21,266.66 271.94,267.03 270.66,267 269.38,267.23 268.11,267.45 266.83,267.61 265.56,267.96 264.28,268.1 263,268.52 261.73,269.36 260.45,269.95 259.18,269.92 257.9,269.66 256.62,269.98 255.35,270.42 254.07,270.54 252.8,271.11 251.52,271.79 250.24,271.58 248.97,270.83 247.69,271.07 246.42,272.02 245.14,272.28 243.86,272.28 242.59,273.12 241.31,274.06 240.04,275.21 238.76,276.63 237.48,277.08 236.21,276.98 234.93,277.57 233.66,278.48 232.38,279.23 231.1,281.17 229.83,282.88 228.55,283.09 227.28,283.09 226,283.63 224.1,285.3 220.1,287.3 216.7,289.9 214,295.5 212.2,302.4 211,309.2 209.8,312.2 208.6,326.2 207,347.3 205.8,375.3" fill="#6cc6ea" fill-opacity="1"/>
<path d="M206.13 242.5V381.2M208.68 242.5V381.2M211.23 242.5V381.2M213.78 242.5V381.2M216.33 242.5V381.2M218.89 242.5V381.2M221.44 242.5V381.2M223.99 242.5V381.2M226.54 242.5V381.2M229.09 242.5V381.2M231.65 242.5V381.2M234.2 242.5V381.2M236.75 242.5V381.2M239.3 242.5V381.2M241.85 242.5V381.2M244.41 242.5V381.2M246.96 242.5V381.2M249.51 242.5V381.2M252.06 242.5V381.2M254.61 242.5V381.2M257.17 242.5V381.2M259.72 242.5V381.2M262.27 242.5V381.2M264.82 242.5V381.2M267.37 242.5V381.2M269.93 242.5V381.2M272.48 242.5V381.2M275.03 242.5V381.2M277.58 242.5V381.2M280.13 242.5V381.2M282.69 242.5V381.2M285.24 242.5V381.2M287.79 242.5V381.2M290.34 242.5V381.2M292.89 242.5V381.2M295.45 242.5V381.2M298 242.5V381.2M300.55 242.5V381.2M303.1 242.5V381.2M305.65 242.5V381.2M308.21 242.5V381.2M310.76 242.5V381.2M313.31 242.5V381.2" stroke="#ff69b4" stroke-width="1.45" stroke-opacity="0.43" fill="none"/>
<polygon points="205.8,337.3 207,325.3 208.6,310.2 209.8,300.2 211,299.2 212.2,294 214,288.7 216.7,284.3 220.1,282.9 224.1,280.9 226,279.25 227.28,278.99 228.55,279.14 229.83,278.66 231.1,276.72 232.38,274.59 233.66,273.3 234.93,272.81 236.21,272.9 237.48,272.19 238.76,270.66 240.04,269.3 241.31,268.62 242.59,268.1 243.86,267.82 245.14,267.8 246.42,267.22 247.69,266.57 248.97,266.61 250.24,266.68 251.52,266.55 252.8,266.7 254.07,266.57 255.35,266.34 256.62,265.71 257.9,264.71 259.18,264.55 260.45,264.85 261.73,264.81 263,264.09 264.28,263.34 265.56,263.46 266.83,263.39 268.11,263.03 269.38,262.6 270.66,262.28 271.94,262.64 273.21,262.3 274.49,260.95 275.76,259.83 277.04,259.89 278.32,260.43 279.59,260.05 280.87,259.82 282.14,259.63 283.42,259.27 284.7,259.47 285.97,259.02 287.25,258.29 288.52,258.41 289.8,258.47 291.08,258.18 292.35,258.05 293.63,257.7 294.9,257.02 296.18,256.42 297.46,255.61 298.73,255.1 300.01,255.2 301.28,254.32 302.56,253.59 303.84,254.08 305.11,254.02 306.39,253.21 307.66,253.1 308.94,252.74 310.22,251.66 311.49,251.57 312.77,252.54 314.04,253.29 315.32,252.93 316.9,251.21 316.9,256.65 315.32,258.33 314.04,258.24 312.77,257.44 311.49,257 310.22,257.39 308.94,258.05 307.66,258.28 306.39,257.94 305.11,257.97 303.84,258.39 302.56,258.51 301.28,258.86 300.01,259.32 298.73,259.34 297.46,259.31 296.18,259.61 294.9,260.4 293.63,261.36 292.35,262.24 291.08,262.55 289.8,262.95 288.52,263.64 287.25,263.94 285.97,264.12 284.7,264.02 283.42,263.96 282.14,264.63 280.87,264.71 279.59,264.2 278.32,264.72 277.04,265.68 275.76,266.01 274.49,266.14 273.21,266.66 271.94,267.03 270.66,267 269.38,267.23 268.11,267.45 266.83,267.61 265.56,267.96 264.28,268.1 263,268.52 261.73,269.36 260.45,269.95 259.18,269.92 257.9,269.66 256.62,269.98 255.35,270.42 254.07,270.54 252.8,271.11 251.52,271.79 250.24,271.58 248.97,270.83 247.69,271.07 246.42,272.02 245.14,272.28 243.86,272.28 242.59,273.12 241.31,274.06 240.04,275.21 238.76,276.63 237.48,277.08 236.21,276.98 234.93,277.57 233.66,278.48 232.38,279.23 231.1,281.17 229.83,282.88 228.55,283.09 227.28,283.09 226,283.63 224.1,285.3 220.1,287.3 216.7,289.9 214,295.5 212.2,302.4 211,309.2 209.8,312.2 208.6,326.2 207,347.3 205.8,375.3" fill="#6cc6ea" fill-opacity="0.3"/>
<polyline points="205.8,355.3 207,336.3 208.6,318.2 209.8,306.2 211,304.2 212.2,298.2 214,292.1 216.7,287.1 220.1,285.1 224.1,283.1 226,281.69 227.28,281.12 228.55,280.86 229.83,280.17 231.1,278.83 232.38,277.53 233.66,276.67 234.93,275.87 236.21,275.14 237.48,274.36 238.76,273.49 240.04,272.21 241.31,271.06 242.59,270.34 243.86,270.01 245.14,270.1 246.42,270.02 247.69,269.51 248.97,269.06 250.24,268.79 251.52,268.49 252.8,268.36 254.07,268.35 255.35,268.45 256.62,268.18 257.9,267.46 259.18,266.9 260.45,266.75 261.73,266.47 263,265.92 264.28,265.72 265.56,265.67 266.83,265.3 268.11,265.21 269.38,264.98 270.66,264.58 271.94,264.68 273.21,264.44 274.49,263.65 275.76,263.09 277.04,263 278.32,262.81 279.59,262.38 280.87,262.45 282.14,262.32 283.42,261.78 284.7,261.47 285.97,261.28 287.25,261.2 288.52,261.01 289.8,260.7 291.08,260.46 292.35,259.97 293.63,259.21 294.9,258.58 296.18,257.94 297.46,257.49 298.73,257.34 300.01,256.99 301.28,256.17 302.56,255.7 303.84,255.62 305.11,255.39 306.39,255.41 307.66,255.62 308.94,255.26 310.22,254.71 311.49,254.61 312.77,254.96 314.04,255.38 315.32,255.06 316.9,253.4" fill="none" stroke="#2f6cdc" stroke-width="1.55" stroke-linejoin="round"/>
<polyline points="205.4,281.7 333.1,249.1" fill="none" stroke="#ff5a1c" stroke-width="1.3" stroke-linejoin="round"/>
<path d="M199.8 272.1H338.5" stroke="#2a9a18" stroke-width="1.45"/>
</g>
<rect x="199.8" y="242.5" width="138.7" height="138.7" fill="none" stroke="#000" stroke-width="0.75"/>
<path d="M230.37 381.2v2.8M255.89 381.2v2.8M281.41 381.2v2.8M306.93 381.2v2.8M199.8 263.2h-2.8M199.8 288.3h-2.8M199.8 313.4h-2.8M199.8 338.5h-2.8M199.8 363.6h-2.8" stroke="#000" stroke-width="0.75" fill="none"/>
<text class="x" x="230.37" y="394.1">0.2</text>
<text class="x" x="255.89" y="394.1">0.4</text>
<text class="x" x="281.41" y="394.1">0.6</text>
<text class="x" x="306.93" y="394.1">0.8</text>
<text class="y" x="194.1" y="266.5">0.00</text>
<text class="y" x="194.1" y="291.6">−0.02</text>
<text class="y" x="194.1" y="316.7">−0.04</text>
<text class="y" x="194.1" y="341.8">−0.06</text>
<text class="y" x="194.1" y="366.9">−0.08</text>
<text class="t" x="269.15" y="238.3">Rel. Duration Marginal Empl.</text>
</g>
<g>
<clipPath id="c21"><rect x="366.8" y="242.5" width="138.7" height="138.7"/></clipPath>
<g clip-path="url(#c21)">
<polygon points="372.8,250.4 373.6,265.9 374.7,281.1 376.3,294.8 378.4,303.5 380.8,309.6 383.2,314.8 384.9,318.4 387.3,319.5 390.5,323.5 392,324.44 393.28,325.78 394.55,326.65 395.83,327.18 397.1,328.06 398.38,329.23 399.66,330.02 400.93,330.46 402.21,330.82 403.48,331.08 404.76,331.32 406.04,332.2 407.31,333.27 408.59,333.64 409.86,333.61 411.14,334.08 412.42,334.74 413.69,335.24 414.97,336.22 416.24,337.13 417.52,337.7 418.8,338.53 420.07,339.05 421.35,339.47 422.62,340.11 423.9,340.77 425.18,341.58 426.45,342.18 427.73,342.35 429,342.69 430.28,343.32 431.56,343.75 432.83,344.29 434.11,345.29 435.38,345.86 436.66,345.73 437.94,345.87 439.21,346.72 440.49,347.5 441.76,348.07 443.04,348.69 444.32,349.06 445.59,349.36 446.87,349.86 448.14,350.45 449.42,351.14 450.7,351.96 451.97,352.56 453.25,352.96 454.52,353.52 455.8,354.01 457.08,354.49 458.35,355.21 459.63,356 460.9,356.68 462.18,357.24 463.46,357.73 464.73,358.25 466.01,358.83 467.28,359.18 468.56,359.35 469.84,359.67 471.11,360.24 472.39,360.84 473.66,361.46 474.94,362.17 476.22,362.31 477.49,362.32 478.77,363.42 480.04,364.87 481.32,365.63 482.6,365.9 483.9,367.2 483.9,371.24 482.6,369.87 481.32,369.23 480.04,367.96 478.77,366.59 477.49,365.51 476.22,364.72 474.94,364.19 473.66,363.48 472.39,362.94 471.11,362.46 469.84,361.7 468.56,361.5 467.28,361.5 466.01,360.84 464.73,360.17 463.46,360.04 462.18,359.51 460.9,358.55 459.63,357.86 458.35,357.31 457.08,356.87 455.8,356.56 454.52,355.84 453.25,354.67 451.97,353.9 450.7,353.48 449.42,353.02 448.14,352.46 446.87,351.85 445.59,351.54 444.32,351.4 443.04,350.92 441.76,350.27 440.49,349.84 439.21,349.17 437.94,348.6 436.66,348.47 435.38,348.04 434.11,347.59 432.83,347.03 431.56,346.1 430.28,345.44 429,345.15 427.73,344.73 426.45,344.3 425.18,343.82 423.9,342.78 422.62,341.94 421.35,341.43 420.07,340.84 418.8,340.23 417.52,339.54 416.24,339.28 414.97,338.78 413.69,337.73 412.42,336.72 411.14,336.3 409.86,336.51 408.59,336.3 407.31,335.35 406.04,334.15 404.76,333.51 403.48,333.32 402.21,332.47 400.93,331.68 399.66,331.4 398.38,331.05 397.1,330.03 395.83,329.1 394.55,328.76 393.28,328.29 392,327.06 390.5,325.7 387.3,321.7 384.9,321.2 383.2,318.4 380.8,314 378.4,308.9 376.3,301.6 374.7,289.3 373.6,274.9 372.8,260.4" fill="#6cc6ea" fill-opacity="1"/>
<path d="M373.13 242.5V381.2M375.68 242.5V381.2M378.23 242.5V381.2M380.78 242.5V381.2M383.33 242.5V381.2M385.89 242.5V381.2M388.44 242.5V381.2M390.99 242.5V381.2M393.54 242.5V381.2M396.09 242.5V381.2M398.65 242.5V381.2M401.2 242.5V381.2M403.75 242.5V381.2M406.3 242.5V381.2M408.85 242.5V381.2M411.41 242.5V381.2M413.96 242.5V381.2M416.51 242.5V381.2M419.06 242.5V381.2M421.61 242.5V381.2M424.17 242.5V381.2M426.72 242.5V381.2M429.27 242.5V381.2M431.82 242.5V381.2M434.37 242.5V381.2M436.93 242.5V381.2M439.48 242.5V381.2M442.03 242.5V381.2M444.58 242.5V381.2M447.13 242.5V381.2M449.69 242.5V381.2M452.24 242.5V381.2M454.79 242.5V381.2M457.34 242.5V381.2M459.89 242.5V381.2M462.45 242.5V381.2M465 242.5V381.2M467.55 242.5V381.2M470.1 242.5V381.2M472.65 242.5V381.2M475.21 242.5V381.2M477.76 242.5V381.2M480.31 242.5V381.2" stroke="#ff69b4" stroke-width="1.45" stroke-opacity="0.43" fill="none"/>
<polygon points="372.8,250.4 373.6,265.9 374.7,281.1 376.3,294.8 378.4,303.5 380.8,309.6 383.2,314.8 384.9,318.4 387.3,319.5 390.5,323.5 392,324.44 393.28,325.78 394.55,326.65 395.83,327.18 397.1,328.06 398.38,329.23 399.66,330.02 400.93,330.46 402.21,330.82 403.48,331.08 404.76,331.32 406.04,332.2 407.31,333.27 408.59,333.64 409.86,333.61 411.14,334.08 412.42,334.74 413.69,335.24 414.97,336.22 416.24,337.13 417.52,337.7 418.8,338.53 420.07,339.05 421.35,339.47 422.62,340.11 423.9,340.77 425.18,341.58 426.45,342.18 427.73,342.35 429,342.69 430.28,343.32 431.56,343.75 432.83,344.29 434.11,345.29 435.38,345.86 436.66,345.73 437.94,345.87 439.21,346.72 440.49,347.5 441.76,348.07 443.04,348.69 444.32,349.06 445.59,349.36 446.87,349.86 448.14,350.45 449.42,351.14 450.7,351.96 451.97,352.56 453.25,352.96 454.52,353.52 455.8,354.01 457.08,354.49 458.35,355.21 459.63,356 460.9,356.68 462.18,357.24 463.46,357.73 464.73,358.25 466.01,358.83 467.28,359.18 468.56,359.35 469.84,359.67 471.11,360.24 472.39,360.84 473.66,361.46 474.94,362.17 476.22,362.31 477.49,362.32 478.77,363.42 480.04,364.87 481.32,365.63 482.6,365.9 483.9,367.2 483.9,371.24 482.6,369.87 481.32,369.23 480.04,367.96 478.77,366.59 477.49,365.51 476.22,364.72 474.94,364.19 473.66,363.48 472.39,362.94 471.11,362.46 469.84,361.7 468.56,361.5 467.28,361.5 466.01,360.84 464.73,360.17 463.46,360.04 462.18,359.51 460.9,358.55 459.63,357.86 458.35,357.31 457.08,356.87 455.8,356.56 454.52,355.84 453.25,354.67 451.97,353.9 450.7,353.48 449.42,353.02 448.14,352.46 446.87,351.85 445.59,351.54 444.32,351.4 443.04,350.92 441.76,350.27 440.49,349.84 439.21,349.17 437.94,348.6 436.66,348.47 435.38,348.04 434.11,347.59 432.83,347.03 431.56,346.1 430.28,345.44 429,345.15 427.73,344.73 426.45,344.3 425.18,343.82 423.9,342.78 422.62,341.94 421.35,341.43 420.07,340.84 418.8,340.23 417.52,339.54 416.24,339.28 414.97,338.78 413.69,337.73 412.42,336.72 411.14,336.3 409.86,336.51 408.59,336.3 407.31,335.35 406.04,334.15 404.76,333.51 403.48,333.32 402.21,332.47 400.93,331.68 399.66,331.4 398.38,331.05 397.1,330.03 395.83,329.1 394.55,328.76 393.28,328.29 392,327.06 390.5,325.7 387.3,321.7 384.9,321.2 383.2,318.4 380.8,314 378.4,308.9 376.3,301.6 374.7,289.3 373.6,274.9 372.8,260.4" fill="#6cc6ea" fill-opacity="0.3"/>
<polyline points="372.8,256.4 373.6,270.9 374.7,285.3 376.3,298.2 378.4,306.2 380.8,311.8 383.2,316.6 384.9,319.8 387.3,320.6 390.5,324.6 392,325.77 393.28,326.66 394.55,327.37 395.83,328.09 397.1,329.04 398.38,330.02 399.66,330.65 400.93,331.18 402.21,331.68 403.48,332.18 404.76,332.57 406.04,333.08 407.31,333.95 408.59,334.73 409.86,335.17 411.14,335.45 412.42,335.92 413.69,336.67 414.97,337.45 416.24,338.17 417.52,338.8 418.8,339.35 420.07,339.86 421.35,340.5 422.62,341.08 423.9,341.68 425.18,342.45 426.45,343.08 427.73,343.52 429,343.84 430.28,344.23 431.56,344.83 432.83,345.48 434.11,346.11 435.38,346.58 436.66,346.92 437.94,347.34 439.21,348.02 440.49,348.68 441.76,349.09 443.04,349.62 444.32,350.1 445.59,350.44 446.87,351.19 448.14,351.8 449.42,352.06 450.7,352.64 451.97,353.31 453.25,353.87 454.52,354.53 455.8,354.99 457.08,355.46 458.35,356.26 459.63,356.99 460.9,357.62 462.18,358.19 463.46,358.6 464.73,358.91 466.01,359.38 467.28,360.03 468.56,360.55 469.84,360.9 471.11,361.28 472.39,361.77 473.66,362.48 474.94,363.02 476.22,363.28 477.49,364.03 478.77,365.23 480.04,366.28 481.32,367.04 482.6,367.62 483.9,369.2" fill="none" stroke="#2f6cdc" stroke-width="1.55" stroke-linejoin="round"/>
<polyline points="372.5,323.4 398.9,331.3 422.2,340.4 445.5,350.2 468.7,360.5 485,368.2 499.7,375.1" fill="none" stroke="#ff5a1c" stroke-width="1.3" stroke-linejoin="round"/>
<path d="M366.8 352.4H505.5" stroke="#2a9a18" stroke-width="1.45"/>
</g>
<rect x="366.8" y="242.5" width="138.7" height="138.7" fill="none" stroke="#000" stroke-width="0.75"/>
<path d="M397.37 381.2v2.8M422.89 381.2v2.8M448.41 381.2v2.8M473.93 381.2v2.8M366.8 264.1h-2.8M366.8 295.8h-2.8M366.8 327.6h-2.8M366.8 359.3h-2.8" stroke="#000" stroke-width="0.75" fill="none"/>
<text class="x" x="397.37" y="394.1">0.2</text>
<text class="x" x="422.89" y="394.1">0.4</text>
<text class="x" x="448.41" y="394.1">0.6</text>
<text class="x" x="473.93" y="394.1">0.8</text>
<text class="y" x="361.1" y="267.4">0.15</text>
<text class="y" x="361.1" y="299.1">0.10</text>
<text class="y" x="361.1" y="330.9">0.05</text>
<text class="y" x="361.1" y="362.6">0.00</text>
<text class="t" x="436.15" y="238.3">Spell Duration</text>
</g>
<g>
<clipPath id="c31"><rect x="533.5" y="242.5" width="138.7" height="138.7"/></clipPath>
<g clip-path="url(#c31)">
<polygon points="539.8,298.7 540.5,311.6 541.5,321 543.4,326.8 546.3,328.2 549.9,327.2 552,326.1 554.2,327.8 557.1,327.2 560,325.4 562.9,321.8 565.8,317.7 566,318.03 567.28,316.77 568.55,315.39 569.83,313.47 571.1,312.11 572.38,311.98 573.66,311.26 574.93,309.51 576.21,307.99 577.48,306.75 578.76,305.78 580.04,305.36 581.31,304.61 582.59,303.26 583.86,301.8 585.14,300.45 586.42,299.21 587.69,298.08 588.97,297.5 590.24,296.98 591.52,296.26 592.8,295.86 594.07,295.09 595.35,293.81 596.62,292.46 597.9,291.04 599.18,290.3 600.45,289.79 601.73,288.89 603,287.85 604.28,286.8 605.56,285.9 606.83,285.11 608.11,284.03 609.38,282.98 610.66,282.24 611.94,281.42 613.21,280.66 614.49,279.63 615.76,278.16 617.04,277.29 618.32,276.64 619.59,275.27 620.87,274.18 622.14,273.55 623.42,273.07 624.7,272.1 625.97,270.29 627.25,268.44 628.52,266.56 629.8,265.18 631.08,264.55 632.35,263.95 633.63,263.54 634.9,262.69 636.18,261.32 637.46,260.49 638.73,260.06 640.01,258.92 641.28,257.11 642.56,255.51 643.84,254.99 645.11,255.44 646.39,255.45 647.66,255.04 648.94,255.36 650.22,256.29 651.5,256.98 651.5,269.8 650.22,268.37 648.94,267.01 647.66,265.57 646.39,265.4 645.11,265.59 643.84,264.78 642.56,264.64 641.28,265.86 640.01,267.37 638.73,268.39 637.46,269.07 636.18,269.83 634.9,270.48 633.63,270.88 632.35,271.87 631.08,272.82 629.8,273.09 628.52,274.2 627.25,275.55 625.97,276.61 624.7,277.84 623.42,278.58 622.14,279.22 620.87,280.09 619.59,281.31 618.32,282.51 617.04,283.04 615.76,284.47 614.49,286.25 613.21,286.63 611.94,287.18 610.66,288.88 609.38,289.92 608.11,289.89 606.83,290.82 605.56,292.31 604.28,293.05 603,293.73 601.73,294.42 600.45,295.26 599.18,296.82 597.9,298.7 596.62,299.97 595.35,300.6 594.07,301.09 592.8,301.8 591.52,303.32 590.24,304.61 588.97,305.71 587.69,307.05 586.42,308.15 585.14,309.5 583.86,310.81 582.59,311.81 581.31,312.58 580.04,313.81 578.76,315.16 577.48,315.72 576.21,316.4 574.93,317.52 573.66,318.84 572.38,320.68 571.1,322.73 569.83,324.27 568.55,325.15 567.28,326.04 566,327.43 565.8,327.2 562.9,331.9 560,336.2 557.1,338.3 554.2,339.8 552,344.6 549.9,345.6 546.3,347.7 543.4,352.1 541.5,357.8 540.5,365 539.8,376.6" fill="#6cc6ea" fill-opacity="1"/>
<path d="M539.83 242.5V381.2M542.38 242.5V381.2M544.93 242.5V381.2M547.48 242.5V381.2M550.03 242.5V381.2M552.59 242.5V381.2M555.14 242.5V381.2M557.69 242.5V381.2M560.24 242.5V381.2M562.79 242.5V381.2M565.35 242.5V381.2M567.9 242.5V381.2M570.45 242.5V381.2M573 242.5V381.2M575.55 242.5V381.2M578.11 242.5V381.2M580.66 242.5V381.2M583.21 242.5V381.2M585.76 242.5V381.2M588.31 242.5V381.2M590.87 242.5V381.2M593.42 242.5V381.2M595.97 242.5V381.2M598.52 242.5V381.2M601.07 242.5V381.2M603.63 242.5V381.2M606.18 242.5V381.2M608.73 242.5V381.2M611.28 242.5V381.2M613.83 242.5V381.2M616.39 242.5V381.2M618.94 242.5V381.2M621.49 242.5V381.2M624.04 242.5V381.2M626.59 242.5V381.2M629.15 242.5V381.2M631.7 242.5V381.2M634.25 242.5V381.2M636.8 242.5V381.2M639.35 242.5V381.2M641.91 242.5V381.2M644.46 242.5V381.2M647.01 242.5V381.2" stroke="#ff69b4" stroke-width="1.45" stroke-opacity="0.43" fill="none"/>
<polygon points="539.8,298.7 540.5,311.6 541.5,321 543.4,326.8 546.3,328.2 549.9,327.2 552,326.1 554.2,327.8 557.1,327.2 560,325.4 562.9,321.8 565.8,317.7 566,318.03 567.28,316.77 568.55,315.39 569.83,313.47 571.1,312.11 572.38,311.98 573.66,311.26 574.93,309.51 576.21,307.99 577.48,306.75 578.76,305.78 580.04,305.36 581.31,304.61 582.59,303.26 583.86,301.8 585.14,300.45 586.42,299.21 587.69,298.08 588.97,297.5 590.24,296.98 591.52,296.26 592.8,295.86 594.07,295.09 595.35,293.81 596.62,292.46 597.9,291.04 599.18,290.3 600.45,289.79 601.73,288.89 603,287.85 604.28,286.8 605.56,285.9 606.83,285.11 608.11,284.03 609.38,282.98 610.66,282.24 611.94,281.42 613.21,280.66 614.49,279.63 615.76,278.16 617.04,277.29 618.32,276.64 619.59,275.27 620.87,274.18 622.14,273.55 623.42,273.07 624.7,272.1 625.97,270.29 627.25,268.44 628.52,266.56 629.8,265.18 631.08,264.55 632.35,263.95 633.63,263.54 634.9,262.69 636.18,261.32 637.46,260.49 638.73,260.06 640.01,258.92 641.28,257.11 642.56,255.51 643.84,254.99 645.11,255.44 646.39,255.45 647.66,255.04 648.94,255.36 650.22,256.29 651.5,256.98 651.5,269.8 650.22,268.37 648.94,267.01 647.66,265.57 646.39,265.4 645.11,265.59 643.84,264.78 642.56,264.64 641.28,265.86 640.01,267.37 638.73,268.39 637.46,269.07 636.18,269.83 634.9,270.48 633.63,270.88 632.35,271.87 631.08,272.82 629.8,273.09 628.52,274.2 627.25,275.55 625.97,276.61 624.7,277.84 623.42,278.58 622.14,279.22 620.87,280.09 619.59,281.31 618.32,282.51 617.04,283.04 615.76,284.47 614.49,286.25 613.21,286.63 611.94,287.18 610.66,288.88 609.38,289.92 608.11,289.89 606.83,290.82 605.56,292.31 604.28,293.05 603,293.73 601.73,294.42 600.45,295.26 599.18,296.82 597.9,298.7 596.62,299.97 595.35,300.6 594.07,301.09 592.8,301.8 591.52,303.32 590.24,304.61 588.97,305.71 587.69,307.05 586.42,308.15 585.14,309.5 583.86,310.81 582.59,311.81 581.31,312.58 580.04,313.81 578.76,315.16 577.48,315.72 576.21,316.4 574.93,317.52 573.66,318.84 572.38,320.68 571.1,322.73 569.83,324.27 568.55,325.15 567.28,326.04 566,327.43 565.8,327.2 562.9,331.9 560,336.2 557.1,338.3 554.2,339.8 552,344.6 549.9,345.6 546.3,347.7 543.4,352.1 541.5,357.8 540.5,365 539.8,376.6" fill="#6cc6ea" fill-opacity="0.3"/>
<polyline points="539.8,336.2 540.9,339.8 544.1,339.8 547,337.6 549.9,336.2 552,334.7 554.2,333.3 557.1,332.6 560,331.1 562.9,326.8 565.8,322.5 566,322.95 567.28,321.57 568.55,320.08 569.83,318.66 571.1,317.4 572.38,316.22 573.66,314.89 574.93,313.51 576.21,312.23 577.48,311.16 578.76,310.33 580.04,309.51 581.31,308.51 582.59,307.24 583.86,305.98 585.14,304.89 586.42,303.57 587.69,302.4 588.97,301.62 590.24,300.65 591.52,299.56 592.8,298.87 594.07,298.32 595.35,297.23 596.62,295.77 597.9,294.61 599.18,293.71 600.45,292.78 601.73,291.77 603,290.6 604.28,289.76 605.56,288.96 606.83,287.83 608.11,286.89 609.38,286.12 610.66,285.17 611.94,284.11 613.21,283.39 614.49,282.46 615.76,280.96 617.04,279.85 618.32,279.07 619.59,277.89 620.87,276.92 622.14,276.37 623.42,275.57 624.7,274.54 625.97,273.51 627.25,272.26 628.52,270.74 629.8,269.55 631.08,268.82 632.35,267.9 633.63,267.06 634.9,266.19 636.18,265.09 637.46,264.44 638.73,263.98 640.01,262.88 641.28,261.57 642.56,260.78 643.84,260.31 645.11,260.15 646.39,259.84 647.66,259.76 648.94,260.37 650.22,261.38 651.5,262.6" fill="none" stroke="#2f6cdc" stroke-width="1.1" stroke-linejoin="round"/>
<polyline points="539.3,348.9 548.4,338.3 562.9,323.9 577.3,311.6 591.7,299.4 604,290 615.5,281.5 633,268.7 648.2,258.8 666.7,248.3" fill="none" stroke="#ff5a1c" stroke-width="1.3" stroke-linejoin="round"/>
<path d="M533.5 304.2H672.2" stroke="#2a9a18" stroke-width="1.45"/>
</g>
<rect x="533.5" y="242.5" width="138.7" height="138.7" fill="none" stroke="#000" stroke-width="0.75"/>
<path d="M564.07 381.2v2.8M589.59 381.2v2.8M615.11 381.2v2.8M640.63 381.2v2.8M533.5 271.5h-2.8M533.5 301.2h-2.8M533.5 330.8h-2.8M533.5 360.3h-2.8" stroke="#000" stroke-width="0.75" fill="none"/>
<text class="x" x="564.07" y="394.1">0.2</text>
<text class="x" x="589.59" y="394.1">0.4</text>
<text class="x" x="615.11" y="394.1">0.6</text>
<text class="x" x="640.63" y="394.1">0.8</text>
<text class="y" x="527.8" y="274.8">0.28</text>
<text class="y" x="527.8" y="304.5">0.26</text>
<text class="y" x="527.8" y="334.1">0.24</text>
<text class="y" x="527.8" y="363.6">0.22</text>
<text class="t" x="602.85" y="238.3">Person-LOOM</text>
</g>
<g>
<clipPath id="c02"><rect x="33" y="471.4" width="138.7" height="138.7"/></clipPath>
<g clip-path="url(#c02)">
<polygon points="39.1,478.3 40.1,496.5 41.7,510.2 44.3,519.8 47,527.2 49.6,532.8 52.9,537.4 56,541 59,544.7 60,545.74 61.28,548.25 62.55,549.83 63.83,550.84 65.1,551.49 66.38,552.39 67.66,553.55 68.93,554.22 70.21,555.55 71.48,557.23 72.76,557.78 74.04,557.74 75.31,558.59 76.59,560.24 77.86,561.19 79.14,561.87 80.42,562.43 81.69,562.57 82.97,563.35 84.24,564.18 85.52,564.77 86.8,566.05 88.07,567.6 89.35,568.55 90.62,569.05 91.9,569.36 93.18,569.7 94.45,570.21 95.73,570.62 97,571.01 98.28,571.6 99.56,572.45 100.83,573.34 102.11,574.17 103.38,575.45 104.66,576.21 105.94,575.99 107.21,576.56 108.49,577.6 109.76,578.06 111.04,578.47 112.32,579.16 113.59,579.76 114.87,580.65 116.14,581.72 117.42,582.12 118.7,582.9 119.97,584.17 121.25,584.76 122.52,585.09 123.8,585.54 125.08,585.96 126.35,586.26 127.63,586.3 128.9,586.24 130.18,586.86 131.46,588.15 132.73,588.97 134.01,589.15 135.28,589.71 136.56,590.38 137.84,590.43 139.11,590.74 140.39,591.42 141.66,591.81 142.94,592.34 144.22,592.71 145.49,593.42 146.77,594.5 148.04,594.47 149.9,594.05 149.9,599.23 148.04,598.96 146.77,598.8 145.49,597.73 144.22,595.91 142.94,595.07 141.66,595.87 140.39,596.3 139.11,594.87 137.84,593.47 136.56,593.58 135.28,593.71 134.01,592.82 132.73,592.07 131.46,591.92 130.18,591.44 128.9,590.33 127.63,589.49 126.35,589.53 125.08,589.34 123.8,588.57 122.52,587.83 121.25,586.9 119.97,585.97 118.7,585.25 117.42,584.47 116.14,583.82 114.87,583.79 113.59,583.81 112.32,583.31 111.04,582.44 109.76,581.5 108.49,580.95 107.21,580.31 105.94,579.15 104.66,578.26 103.38,577.89 102.11,577.51 100.83,576.83 99.56,576.27 98.28,575.75 97,574.65 95.73,573.5 94.45,572.74 93.18,572.2 91.9,571.96 90.62,571.51 89.35,570.74 88.07,570.15 86.8,569.57 85.52,569.17 84.24,568.73 82.97,567 81.69,565.52 80.42,565.22 79.14,564.62 77.86,564.06 76.59,563.48 75.31,562.41 74.04,561.52 72.76,561.23 71.48,560.53 70.21,559.02 68.93,557.81 67.66,557.06 66.38,556.1 65.1,555.06 63.83,553.93 62.55,552.67 61.28,551.03 60,549.18 59,548.1 56,545.4 52.9,542.6 49.6,539.2 47,535.2 44.3,529.8 41.7,523.2 40.1,513.5 39.1,506.3" fill="#6cc6ea" fill-opacity="1"/>
<path d="M39.33 471.4V610.1M41.88 471.4V610.1M44.43 471.4V610.1M46.98 471.4V610.1M49.53 471.4V610.1M52.09 471.4V610.1M54.64 471.4V610.1M57.19 471.4V610.1M59.74 471.4V610.1M62.29 471.4V610.1M64.85 471.4V610.1M67.4 471.4V610.1M69.95 471.4V610.1M72.5 471.4V610.1M75.05 471.4V610.1M77.61 471.4V610.1M80.16 471.4V610.1M82.71 471.4V610.1M85.26 471.4V610.1M87.81 471.4V610.1M90.37 471.4V610.1M92.92 471.4V610.1M95.47 471.4V610.1M98.02 471.4V610.1M100.57 471.4V610.1M103.13 471.4V610.1M105.68 471.4V610.1M108.23 471.4V610.1M110.78 471.4V610.1M113.33 471.4V610.1M115.89 471.4V610.1M118.44 471.4V610.1M120.99 471.4V610.1M123.54 471.4V610.1M126.09 471.4V610.1M128.65 471.4V610.1M131.2 471.4V610.1M133.75 471.4V610.1M136.3 471.4V610.1M138.85 471.4V610.1M141.41 471.4V610.1M143.96 471.4V610.1M146.51 471.4V610.1" stroke="#ff69b4" stroke-width="1.45" stroke-opacity="0.43" fill="none"/>
<polygon points="39.1,478.3 40.1,496.5 41.7,510.2 44.3,519.8 47,527.2 49.6,532.8 52.9,537.4 56,541 59,544.7 60,545.74 61.28,548.25 62.55,549.83 63.83,550.84 65.1,551.49 66.38,552.39 67.66,553.55 68.93,554.22 70.21,555.55 71.48,557.23 72.76,557.78 74.04,557.74 75.31,558.59 76.59,560.24 77.86,561.19 79.14,561.87 80.42,562.43 81.69,562.57 82.97,563.35 84.24,564.18 85.52,564.77 86.8,566.05 88.07,567.6 89.35,568.55 90.62,569.05 91.9,569.36 93.18,569.7 94.45,570.21 95.73,570.62 97,571.01 98.28,571.6 99.56,572.45 100.83,573.34 102.11,574.17 103.38,575.45 104.66,576.21 105.94,575.99 107.21,576.56 108.49,577.6 109.76,578.06 111.04,578.47 112.32,579.16 113.59,579.76 114.87,580.65 116.14,581.72 117.42,582.12 118.7,582.9 119.97,584.17 121.25,584.76 122.52,585.09 123.8,585.54 125.08,585.96 126.35,586.26 127.63,586.3 128.9,586.24 130.18,586.86 131.46,588.15 132.73,588.97 134.01,589.15 135.28,589.71 136.56,590.38 137.84,590.43 139.11,590.74 140.39,591.42 141.66,591.81 142.94,592.34 144.22,592.71 145.49,593.42 146.77,594.5 148.04,594.47 149.9,594.05 149.9,599.23 148.04,598.96 146.77,598.8 145.49,597.73 144.22,595.91 142.94,595.07 141.66,595.87 140.39,596.3 139.11,594.87 137.84,593.47 136.56,593.58 135.28,593.71 134.01,592.82 132.73,592.07 131.46,591.92 130.18,591.44 128.9,590.33 127.63,589.49 126.35,589.53 125.08,589.34 123.8,588.57 122.52,587.83 121.25,586.9 119.97,585.97 118.7,585.25 117.42,584.47 116.14,583.82 114.87,583.79 113.59,583.81 112.32,583.31 111.04,582.44 109.76,581.5 108.49,580.95 107.21,580.31 105.94,579.15 104.66,578.26 103.38,577.89 102.11,577.51 100.83,576.83 99.56,576.27 98.28,575.75 97,574.65 95.73,573.5 94.45,572.74 93.18,572.2 91.9,571.96 90.62,571.51 89.35,570.74 88.07,570.15 86.8,569.57 85.52,569.17 84.24,568.73 82.97,567 81.69,565.52 80.42,565.22 79.14,564.62 77.86,564.06 76.59,563.48 75.31,562.41 74.04,561.52 72.76,561.23 71.48,560.53 70.21,559.02 68.93,557.81 67.66,557.06 66.38,556.1 65.1,555.06 63.83,553.93 62.55,552.67 61.28,551.03 60,549.18 59,548.1 56,545.4 52.9,542.6 49.6,539.2 47,535.2 44.3,529.8 41.7,523.2 40.1,513.5 39.1,506.3" fill="#6cc6ea" fill-opacity="0.3"/>
<polyline points="39.1,494.3 40.1,505.5 41.7,516.7 44.3,524.8 47,531.2 49.6,536 52.9,540 56,543.2 59,546.4 60,547.56 61.28,549.35 62.55,550.97 63.83,552.41 65.1,553.54 66.38,554.56 67.66,555.48 68.93,556.23 70.21,557.43 71.48,558.74 72.76,559.61 74.04,560.15 75.31,560.87 76.59,561.81 77.86,562.69 79.14,563.59 80.42,564.19 81.69,564.6 82.97,565.34 84.24,566.03 85.52,566.64 86.8,567.6 88.07,568.75 89.35,569.59 90.62,570.01 91.9,570.22 93.18,570.64 94.45,571.48 95.73,572.32 97,573.02 98.28,573.65 99.56,574.42 100.83,575.35 102.11,576.17 103.38,576.81 104.66,577.17 105.94,577.44 107.21,578.11 108.49,579.13 109.76,579.95 111.04,580.47 112.32,581.01 113.59,581.52 114.87,582.07 116.14,582.56 117.42,582.96 118.7,583.76 119.97,584.78 121.25,585.71 122.52,586.55 123.8,587.14 125.08,587.55 126.35,587.72 127.63,587.97 128.9,588.69 130.18,589.47 131.46,590.16 132.73,590.66 134.01,590.97 135.28,591.38 136.56,591.66 137.84,591.77 139.11,592.43 140.39,593.51 141.66,594.03 142.94,594.22 144.22,594.61 145.49,595.52 146.77,596.51 148.04,596.63 149.9,596.7" fill="none" stroke="#2f6cdc" stroke-width="1.55" stroke-linejoin="round"/>
<polyline points="38.8,540 50.1,546.4 66.1,556.1 82.2,564.9 98.2,573.2 111.5,580.3 123.1,586.3 134.7,591.6 151,598.8 166.1,604.1" fill="none" stroke="#ff5a1c" stroke-width="1.3" stroke-linejoin="round"/>
<path d="M33 554.9H171.7" stroke="#2a9a18" stroke-width="1.45"/>
</g>
<rect x="33" y="471.4" width="138.7" height="138.7" fill="none" stroke="#000" stroke-width="0.75"/>
<path d="M63.57 610.1v2.8M89.09 610.1v2.8M114.61 610.1v2.8M140.13 610.1v2.8M33 503.4h-2.8M33 539.5h-2.8M33 575.6h-2.8" stroke="#000" stroke-width="0.75" fill="none"/>
<text class="x" x="63.57" y="623">0.2</text>
<text class="x" x="89.09" y="623">0.4</text>
<text class="x" x="114.61" y="623">0.6</text>
<text class="x" x="140.13" y="623">0.8</text>
<text class="y" x="27.3" y="506.7">0.20</text>
<text class="y" x="27.3" y="542.8">0.15</text>
<text class="y" x="27.3" y="578.9">0.10</text>
<text class="t" x="102.35" y="467.2">Establishment-LOOM</text>
</g>
<g>
<clipPath id="c12"><rect x="199.8" y="471.4" width="138.7" height="138.7"/></clipPath>
<g clip-path="url(#c12)">
<polygon points="205.9,478 206.6,505 207.4,520 209.8,530.5 212.7,539.9 215,545.1 219.1,544.3 221.4,547.4 222,547.59 223.28,547.37 224.55,547.79 225.83,548.95 227.1,549.83 228.38,551.32 229.66,553.18 230.93,554.34 232.21,554.77 233.48,555.41 234.76,556.1 236.04,556.55 237.31,556.62 238.59,556.8 239.86,556.81 241.14,556.65 242.42,556.37 243.69,555.84 244.97,554.93 246.24,554.48 247.52,556.31 248.8,557.98 250.07,559.53 251.35,559.06 252.62,558 253.9,557.24 255.18,557.43 256.45,557.69 257.73,557.91 259,557.9 260.28,556.97 261.56,556.1 262.83,556.95 264.11,557.77 265.38,558.33 266.66,557.73 267.94,556.94 269.21,556.67 270.49,556.38 271.76,555.88 273.04,555.7 274.32,555.95 275.59,555.63 276.87,554.68 278.14,554.11 279.42,553.76 280.7,553.59 281.97,553.48 283.25,553.14 284.52,552.56 285.8,551.55 287.08,551.28 288.35,551.67 289.63,551.06 290.9,550.64 292.18,551.2 293.46,551.02 294.73,549.81 296.01,549 297.28,549.2 298.56,549.23 299.84,548.81 301.11,548.29 302.39,547.63 303.66,547.53 304.94,547.92 306.22,547.98 307.49,547.47 308.77,546.92 310.04,546.5 311.32,544.79 312.6,543.06 313.87,539.34 315.15,535.25 316.42,532.43 317.6,529.63 317.6,553.78 316.42,555.16 315.15,557.09 313.87,559.32 312.6,561.43 311.32,563.27 310.04,564.65 308.77,564.22 307.49,564.6 306.22,564.67 304.94,564.2 303.66,564.51 302.39,565.17 301.11,565.36 299.84,565.24 298.56,565.48 297.28,565.76 296.01,565.43 294.73,565.31 293.46,565.87 292.18,566.52 290.9,566.84 289.63,566.36 288.35,565.98 287.08,566.65 285.8,567.17 284.52,567.13 283.25,567.16 281.97,566.81 280.7,566.69 279.42,567.5 278.14,568.25 276.87,568.47 275.59,569.02 274.32,569.91 273.04,570.94 271.76,571.61 270.49,571.92 269.21,572.09 267.94,571.98 266.66,572.11 265.38,572.27 264.11,572.08 262.83,571.75 261.56,571.68 260.28,571.78 259,571.69 257.73,571.57 256.45,571.62 255.18,571.68 253.9,571.5 252.62,573.88 251.35,575.67 250.07,574.71 248.8,573.78 247.52,573.16 246.24,571.94 244.97,571.77 243.69,572.77 242.42,573.67 241.14,573.69 239.86,573.7 238.59,574 237.31,574.28 236.04,574.33 234.76,574.05 233.48,573.77 232.21,573.04 230.93,572.46 229.66,572.33 228.38,572.29 227.1,571.73 225.83,570.66 224.55,570.01 223.28,570.79 222,571.48 221.4,572 218.5,574 215.6,576.6 212.7,575.8 210.3,575.5 208,578.4 206.8,585.4 205.9,608" fill="#6cc6ea" fill-opacity="1"/>
<path d="M206.13 471.4V610.1M208.68 471.4V610.1M211.23 471.4V610.1M213.78 471.4V610.1M216.33 471.4V610.1M218.89 471.4V610.1M221.44 471.4V610.1M223.99 471.4V610.1M226.54 471.4V610.1M229.09 471.4V610.1M231.65 471.4V610.1M234.2 471.4V610.1M236.75 471.4V610.1M239.3 471.4V610.1M241.85 471.4V610.1M244.41 471.4V610.1M246.96 471.4V610.1M249.51 471.4V610.1M252.06 471.4V610.1M254.61 471.4V610.1M257.17 471.4V610.1M259.72 471.4V610.1M262.27 471.4V610.1M264.82 471.4V610.1M267.37 471.4V610.1M269.93 471.4V610.1M272.48 471.4V610.1M275.03 471.4V610.1M277.58 471.4V610.1M280.13 471.4V610.1M282.69 471.4V610.1M285.24 471.4V610.1M287.79 471.4V610.1M290.34 471.4V610.1M292.89 471.4V610.1M295.45 471.4V610.1M298 471.4V610.1M300.55 471.4V610.1M303.1 471.4V610.1M305.65 471.4V610.1M308.21 471.4V610.1M310.76 471.4V610.1M313.31 471.4V610.1" stroke="#ff69b4" stroke-width="1.45" stroke-opacity="0.43" fill="none"/>
<polygon points="205.9,478 206.6,505 207.4,520 209.8,530.5 212.7,539.9 215,545.1 219.1,544.3 221.4,547.4 222,547.59 223.28,547.37 224.55,547.79 225.83,548.95 227.1,549.83 228.38,551.32 229.66,553.18 230.93,554.34 232.21,554.77 233.48,555.41 234.76,556.1 236.04,556.55 237.31,556.62 238.59,556.8 239.86,556.81 241.14,556.65 242.42,556.37 243.69,555.84 244.97,554.93 246.24,554.48 247.52,556.31 248.8,557.98 250.07,559.53 251.35,559.06 252.62,558 253.9,557.24 255.18,557.43 256.45,557.69 257.73,557.91 259,557.9 260.28,556.97 261.56,556.1 262.83,556.95 264.11,557.77 265.38,558.33 266.66,557.73 267.94,556.94 269.21,556.67 270.49,556.38 271.76,555.88 273.04,555.7 274.32,555.95 275.59,555.63 276.87,554.68 278.14,554.11 279.42,553.76 280.7,553.59 281.97,553.48 283.25,553.14 284.52,552.56 285.8,551.55 287.08,551.28 288.35,551.67 289.63,551.06 290.9,550.64 292.18,551.2 293.46,551.02 294.73,549.81 296.01,549 297.28,549.2 298.56,549.23 299.84,548.81 301.11,548.29 302.39,547.63 303.66,547.53 304.94,547.92 306.22,547.98 307.49,547.47 308.77,546.92 310.04,546.5 311.32,544.79 312.6,543.06 313.87,539.34 315.15,535.25 316.42,532.43 317.6,529.63 317.6,553.78 316.42,555.16 315.15,557.09 313.87,559.32 312.6,561.43 311.32,563.27 310.04,564.65 308.77,564.22 307.49,564.6 306.22,564.67 304.94,564.2 303.66,564.51 302.39,565.17 301.11,565.36 299.84,565.24 298.56,565.48 297.28,565.76 296.01,565.43 294.73,565.31 293.46,565.87 292.18,566.52 290.9,566.84 289.63,566.36 288.35,565.98 287.08,566.65 285.8,567.17 284.52,567.13 283.25,567.16 281.97,566.81 280.7,566.69 279.42,567.5 278.14,568.25 276.87,568.47 275.59,569.02 274.32,569.91 273.04,570.94 271.76,571.61 270.49,571.92 269.21,572.09 267.94,571.98 266.66,572.11 265.38,572.27 264.11,572.08 262.83,571.75 261.56,571.68 260.28,571.78 259,571.69 257.73,571.57 256.45,571.62 255.18,571.68 253.9,571.5 252.62,573.88 251.35,575.67 250.07,574.71 248.8,573.78 247.52,573.16 246.24,571.94 244.97,571.77 243.69,572.77 242.42,573.67 241.14,573.69 239.86,573.7 238.59,574 237.31,574.28 236.04,574.33 234.76,574.05 233.48,573.77 232.21,573.04 230.93,572.46 229.66,572.33 228.38,572.29 227.1,571.73 225.83,570.66 224.55,570.01 223.28,570.79 222,571.48 221.4,572 218.5,574 215.6,576.6 212.7,575.8 210.3,575.5 208,578.4 206.8,585.4 205.9,608" fill="#6cc6ea" fill-opacity="0.3"/>
<polyline points="205.9,541 206.8,546.3 208.6,548.6 210.3,553.3 212.7,556.8 215.6,561.1 217.4,560.3 219.5,557.1 221.4,560.3 222,559.84 223.28,559.1 224.55,558.53 225.83,558.98 227.1,560.32 228.38,561.47 229.66,561.76 230.93,562.86 232.21,563.85 233.48,564.36 234.76,564.85 236.04,565.12 237.31,565.05 238.59,565.03 239.86,564.93 241.14,564.93 242.42,564.51 243.69,563.33 244.97,563.05 246.24,563.15 247.52,564.7 248.8,566.14 250.07,567.53 251.35,567.99 252.62,566.65 253.9,564.96 255.18,565 256.45,565.04 257.73,564.8 259,564.53 260.28,564.12 261.56,563.77 262.83,564.32 264.11,564.87 265.38,565.16 266.66,565.29 267.94,565.36 269.21,564.99 270.49,564.41 271.76,563.93 273.04,563.39 274.32,562.78 275.59,562.12 276.87,561.51 278.14,561.17 279.42,560.8 280.7,560.41 281.97,560.29 283.25,560.32 284.52,560.33 285.8,560.41 287.08,560.12 288.35,559.76 289.63,559.4 290.9,559.06 292.18,558.87 293.46,558.66 294.73,558.29 296.01,557.85 297.28,557.54 298.56,557.31 299.84,557.09 301.11,556.99 302.39,556.84 303.66,556.63 304.94,556.44 306.22,556.19 307.49,555.88 308.77,555.65 310.04,555.43 311.32,552.94 312.6,550.53 313.87,548.42 315.15,546.25 316.42,544.21 317.6,542.4" fill="none" stroke="#2f6cdc" stroke-width="1.1" stroke-linejoin="round"/>
<polyline points="205.7,560.5 218.5,563.4 236,565.3 253.6,565.3 265,564.6 276.7,562.3 288.4,559.4 300,555.3 311.7,550.6 323.4,545.1 332.7,540.5" fill="none" stroke="#ff5a1c" stroke-width="1.3" stroke-linejoin="round"/>
<path d="M199.8 537.5H338.5" stroke="#2a9a18" stroke-width="1.45"/>
</g>
<rect x="199.8" y="471.4" width="138.7" height="138.7" fill="none" stroke="#000" stroke-width="0.75"/>
<path d="M230.37 610.1v2.8M255.89 610.1v2.8M281.41 610.1v2.8M306.93 610.1v2.8M199.8 484.9h-2.8M199.8 522.6h-2.8M199.8 560.3h-2.8M199.8 598h-2.8" stroke="#000" stroke-width="0.75" fill="none"/>
<text class="x" x="230.37" y="623">0.2</text>
<text class="x" x="255.89" y="623">0.4</text>
<text class="x" x="281.41" y="623">0.6</text>
<text class="x" x="306.93" y="623">0.8</text>
<text class="y" x="194.1" y="488.2">0.04</text>
<text class="y" x="194.1" y="525.9">0.03</text>
<text class="y" x="194.1" y="563.6">0.02</text>
<text class="y" x="194.1" y="601.3">0.01</text>
<text class="t" x="269.15" y="467.2">Occupation-LOOM</text>
</g>
<g>
<path d="M552.6 485.9H574.6" stroke="#4a93ee" stroke-width="1.4"/>
<rect x="552.6" y="497.6" width="22.0" height="7.4" fill="#78d0ec"/>
<path d="M552.6 524.2H574.6" stroke="#ff6e3c" stroke-width="1.4"/>
<path d="M552.6 544.9H574.6" stroke="#52b03e" stroke-width="1.4"/>
<text class="l" x="583.2" y="489.8">QR Coefficients</text>
<text class="l" x="583.2" y="505.4">95% CI</text>
<text class="l" x="583.2" y="521.0">OLS-Prediction</text>
<text class="l" x="583.2" y="533.2" xml:space="preserve"> of QR Coefficients.</text>
<text class="l" x="583.2" y="548.7">Tobit Coefficient</text>
</g>
</svg></body></html>
